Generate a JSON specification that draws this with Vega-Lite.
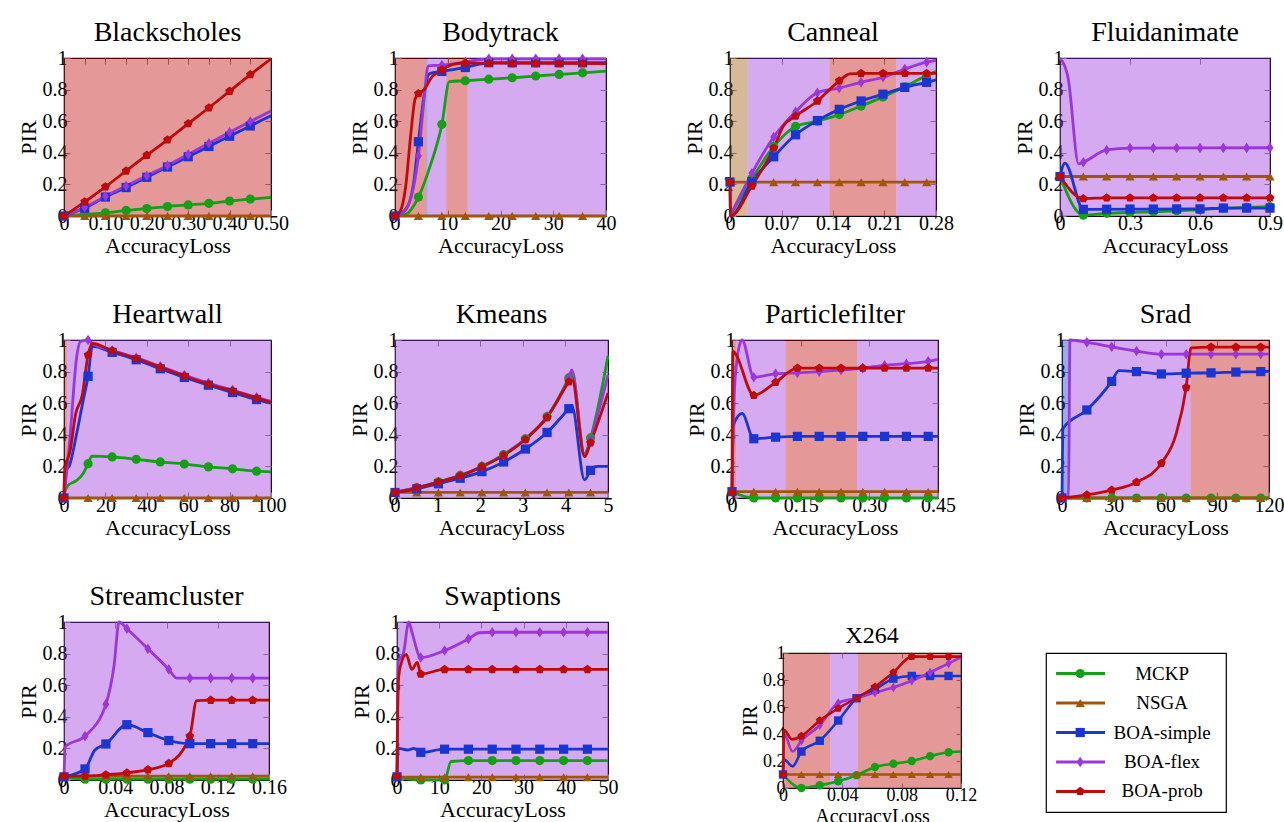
{
  "$schema": "https://vega.github.io/schema/vega-lite/v6.json",
  "background": "white",
  "padding": {"left": 16, "top": 18, "right": 0, "bottom": 0},
  "datasets": {
    "methods": [
      {"method": "MCKP"}, {"method": "NSGA"}, {"method": "BOA-simple"}, {"method": "BOA-flex"}, {"method": "BOA-prob"}
    ],
    "regions": [
      {"bench": "Blackscholes", "method": "BOA-prob", "start": 0, "end": 0.5},
      {"bench": "Bodytrack", "method": "BOA-prob", "start": 0, "end": 5.9},
      {"bench": "Bodytrack", "method": "BOA-simple", "start": 5.9, "end": 6.2},
      {"bench": "Bodytrack", "method": "BOA-flex", "start": 6.2, "end": 9.7},
      {"bench": "Bodytrack", "method": "BOA-prob", "start": 9.7, "end": 13.8},
      {"bench": "Bodytrack", "method": "BOA-flex", "start": 13.8, "end": 40},
      {"bench": "Canneal", "method": "NSGA", "start": 0, "end": 0.024},
      {"bench": "Canneal", "method": "BOA-flex", "start": 0.024, "end": 0.135},
      {"bench": "Canneal", "method": "BOA-prob", "start": 0.135, "end": 0.226},
      {"bench": "Canneal", "method": "BOA-flex", "start": 0.226, "end": 0.28},
      {"bench": "Fluidanimate", "method": "BOA-flex", "start": 0, "end": 0.9},
      {"bench": "Heartwall", "method": "BOA-prob", "start": 0, "end": 1.6},
      {"bench": "Heartwall", "method": "BOA-flex", "start": 1.6, "end": 100},
      {"bench": "Kmeans", "method": "BOA-flex", "start": 0, "end": 5},
      {"bench": "Particlefilter", "method": "BOA-prob", "start": 0, "end": 0.009},
      {"bench": "Particlefilter", "method": "BOA-flex", "start": 0.009, "end": 0.1165},
      {"bench": "Particlefilter", "method": "BOA-prob", "start": 0.1165, "end": 0.273},
      {"bench": "Particlefilter", "method": "BOA-flex", "start": 0.273, "end": 0.45},
      {"bench": "Srad", "method": "BOA-simple", "start": 0, "end": 4.4},
      {"bench": "Srad", "method": "BOA-flex", "start": 4.4, "end": 74.4},
      {"bench": "Srad", "method": "BOA-prob", "start": 74.4, "end": 120},
      {"bench": "Streamcluster", "method": "BOA-flex", "start": 0, "end": 0.16},
      {"bench": "Swaptions", "method": "BOA-flex", "start": 0, "end": 50},
      {"bench": "X264", "method": "BOA-prob", "start": 0, "end": 0.0317},
      {"bench": "X264", "method": "BOA-flex", "start": 0.0317, "end": 0.0502},
      {"bench": "X264", "method": "BOA-prob", "start": 0.0502, "end": 0.12}
    ],
    "blackscholes_lines": [
      {"method":"MCKP","loss":0,"pir":0},{"method":"MCKP","loss":0.05,"pir":0.01},{"method":"MCKP","loss":0.1,"pir":0.02},{"method":"MCKP","loss":0.15,"pir":0.035},{"method":"MCKP","loss":0.2,"pir":0.047},{"method":"MCKP","loss":0.25,"pir":0.06},{"method":"MCKP","loss":0.3,"pir":0.07},{"method":"MCKP","loss":0.35,"pir":0.08},{"method":"MCKP","loss":0.4,"pir":0.095},{"method":"MCKP","loss":0.45,"pir":0.107},{"method":"MCKP","loss":0.5,"pir":0.118},
      {"method":"NSGA","loss":0,"pir":0},{"method":"NSGA","loss":0.5,"pir":0},
      {"method":"BOA-simple","loss":0,"pir":0},{"method":"BOA-simple","loss":0.05,"pir":0.05},{"method":"BOA-simple","loss":0.1,"pir":0.12},{"method":"BOA-simple","loss":0.15,"pir":0.18},{"method":"BOA-simple","loss":0.2,"pir":0.245},{"method":"BOA-simple","loss":0.25,"pir":0.31},{"method":"BOA-simple","loss":0.3,"pir":0.375},{"method":"BOA-simple","loss":0.35,"pir":0.44},{"method":"BOA-simple","loss":0.4,"pir":0.505},{"method":"BOA-simple","loss":0.45,"pir":0.57},{"method":"BOA-simple","loss":0.5,"pir":0.635},
      {"method":"BOA-flex","loss":0,"pir":0},{"method":"BOA-flex","loss":0.05,"pir":0.055},{"method":"BOA-flex","loss":0.1,"pir":0.125},{"method":"BOA-flex","loss":0.15,"pir":0.19},{"method":"BOA-flex","loss":0.2,"pir":0.255},{"method":"BOA-flex","loss":0.25,"pir":0.32},{"method":"BOA-flex","loss":0.3,"pir":0.39},{"method":"BOA-flex","loss":0.35,"pir":0.46},{"method":"BOA-flex","loss":0.4,"pir":0.53},{"method":"BOA-flex","loss":0.45,"pir":0.598},{"method":"BOA-flex","loss":0.5,"pir":0.665},
      {"method":"BOA-prob","loss":0,"pir":0},{"method":"BOA-prob","loss":0.05,"pir":0.09},{"method":"BOA-prob","loss":0.1,"pir":0.185},{"method":"BOA-prob","loss":0.15,"pir":0.285},{"method":"BOA-prob","loss":0.2,"pir":0.385},{"method":"BOA-prob","loss":0.25,"pir":0.482},{"method":"BOA-prob","loss":0.3,"pir":0.585},{"method":"BOA-prob","loss":0.35,"pir":0.685},{"method":"BOA-prob","loss":0.4,"pir":0.79},{"method":"BOA-prob","loss":0.45,"pir":0.895},{"method":"BOA-prob","loss":0.5,"pir":0.995}
    ],
    "blackscholes_marks": [
      {"method":"MCKP","loss":0.05,"pir":0.01},{"method":"MCKP","loss":0.1,"pir":0.02},{"method":"MCKP","loss":0.15,"pir":0.035},{"method":"MCKP","loss":0.2,"pir":0.047},{"method":"MCKP","loss":0.25,"pir":0.06},{"method":"MCKP","loss":0.3,"pir":0.07},{"method":"MCKP","loss":0.35,"pir":0.08},{"method":"MCKP","loss":0.4,"pir":0.095},{"method":"MCKP","loss":0.45,"pir":0.107},
      {"method":"NSGA","loss":0.05,"pir":0},{"method":"NSGA","loss":0.1,"pir":0},{"method":"NSGA","loss":0.15,"pir":0},{"method":"NSGA","loss":0.2,"pir":0},{"method":"NSGA","loss":0.25,"pir":0},{"method":"NSGA","loss":0.3,"pir":0},{"method":"NSGA","loss":0.35,"pir":0},{"method":"NSGA","loss":0.4,"pir":0},{"method":"NSGA","loss":0.45,"pir":0},
      {"method":"BOA-simple","loss":0,"pir":0},{"method":"BOA-simple","loss":0.05,"pir":0.05},{"method":"BOA-simple","loss":0.1,"pir":0.12},{"method":"BOA-simple","loss":0.15,"pir":0.18},{"method":"BOA-simple","loss":0.2,"pir":0.245},{"method":"BOA-simple","loss":0.25,"pir":0.31},{"method":"BOA-simple","loss":0.3,"pir":0.375},{"method":"BOA-simple","loss":0.35,"pir":0.44},{"method":"BOA-simple","loss":0.4,"pir":0.505},{"method":"BOA-simple","loss":0.45,"pir":0.57},
      {"method":"BOA-flex","loss":0.05,"pir":0.055},{"method":"BOA-flex","loss":0.1,"pir":0.125},{"method":"BOA-flex","loss":0.15,"pir":0.19},{"method":"BOA-flex","loss":0.2,"pir":0.255},{"method":"BOA-flex","loss":0.25,"pir":0.32},{"method":"BOA-flex","loss":0.3,"pir":0.39},{"method":"BOA-flex","loss":0.35,"pir":0.46},{"method":"BOA-flex","loss":0.4,"pir":0.53},{"method":"BOA-flex","loss":0.45,"pir":0.598},
      {"method":"BOA-prob","loss":0,"pir":0},{"method":"BOA-prob","loss":0.05,"pir":0.09},{"method":"BOA-prob","loss":0.1,"pir":0.185},{"method":"BOA-prob","loss":0.15,"pir":0.285},{"method":"BOA-prob","loss":0.2,"pir":0.385},{"method":"BOA-prob","loss":0.25,"pir":0.482},{"method":"BOA-prob","loss":0.3,"pir":0.585},{"method":"BOA-prob","loss":0.35,"pir":0.685},{"method":"BOA-prob","loss":0.4,"pir":0.79},{"method":"BOA-prob","loss":0.45,"pir":0.895}
    ],
    "bodytrack_lines": [
      {"method":"MCKP","loss":0,"pir":0},{"method":"MCKP","loss":2,"pir":0.01},{"method":"MCKP","loss":4.44,"pir":0.12},{"method":"MCKP","loss":6.7,"pir":0.32},{"method":"MCKP","loss":8.89,"pir":0.58},{"method":"MCKP","loss":10.3,"pir":0.85},{"method":"MCKP","loss":13.33,"pir":0.856},{"method":"MCKP","loss":17.78,"pir":0.866},{"method":"MCKP","loss":22.22,"pir":0.875},{"method":"MCKP","loss":26.67,"pir":0.886},{"method":"MCKP","loss":31.11,"pir":0.896},{"method":"MCKP","loss":35.56,"pir":0.906},{"method":"MCKP","loss":40,"pir":0.917},
      {"method":"NSGA","loss":0,"pir":0},{"method":"NSGA","loss":40,"pir":0},
      {"method":"BOA-simple","loss":0,"pir":0},{"method":"BOA-simple","loss":2,"pir":0.04},{"method":"BOA-simple","loss":3.5,"pir":0.2},{"method":"BOA-simple","loss":4.44,"pir":0.47},{"method":"BOA-simple","loss":5.5,"pir":0.76},{"method":"BOA-simple","loss":6.5,"pir":0.9},{"method":"BOA-simple","loss":8.89,"pir":0.915},{"method":"BOA-simple","loss":13.33,"pir":0.94},{"method":"BOA-simple","loss":17.78,"pir":0.97},{"method":"BOA-simple","loss":40,"pir":0.97},
      {"method":"BOA-flex","loss":0,"pir":0},{"method":"BOA-flex","loss":2,"pir":0.04},{"method":"BOA-flex","loss":3.5,"pir":0.18},{"method":"BOA-flex","loss":4.44,"pir":0.38},{"method":"BOA-flex","loss":5.4,"pir":0.7},{"method":"BOA-flex","loss":6.3,"pir":0.95},{"method":"BOA-flex","loss":8.89,"pir":0.955},{"method":"BOA-flex","loss":13.33,"pir":0.975},{"method":"BOA-flex","loss":17.78,"pir":0.995},{"method":"BOA-flex","loss":40,"pir":0.995},
      {"method":"BOA-prob","loss":0,"pir":0},{"method":"BOA-prob","loss":1,"pir":0.03},{"method":"BOA-prob","loss":2,"pir":0.18},{"method":"BOA-prob","loss":3,"pir":0.52},{"method":"BOA-prob","loss":3.8,"pir":0.74},{"method":"BOA-prob","loss":4.44,"pir":0.775},{"method":"BOA-prob","loss":5.5,"pir":0.8},{"method":"BOA-prob","loss":7,"pir":0.88},{"method":"BOA-prob","loss":8.89,"pir":0.925},{"method":"BOA-prob","loss":11,"pir":0.96},{"method":"BOA-prob","loss":13.33,"pir":0.968},{"method":"BOA-prob","loss":40,"pir":0.965}
    ],
    "bodytrack_marks": [
      {"method":"MCKP","loss":4.44,"pir":0.12},{"method":"MCKP","loss":8.89,"pir":0.58},{"method":"MCKP","loss":13.33,"pir":0.856},{"method":"MCKP","loss":17.78,"pir":0.866},{"method":"MCKP","loss":22.22,"pir":0.875},{"method":"MCKP","loss":26.67,"pir":0.886},{"method":"MCKP","loss":31.11,"pir":0.896},{"method":"MCKP","loss":35.56,"pir":0.906},
      {"method":"NSGA","loss":4.44,"pir":0},{"method":"NSGA","loss":8.89,"pir":0},{"method":"NSGA","loss":13.33,"pir":0},{"method":"NSGA","loss":17.78,"pir":0},{"method":"NSGA","loss":22.22,"pir":0},{"method":"NSGA","loss":26.67,"pir":0},{"method":"NSGA","loss":31.11,"pir":0},{"method":"NSGA","loss":35.56,"pir":0},
      {"method":"BOA-simple","loss":0,"pir":0},{"method":"BOA-simple","loss":4.44,"pir":0.47},{"method":"BOA-simple","loss":8.89,"pir":0.915},{"method":"BOA-simple","loss":13.33,"pir":0.94},{"method":"BOA-simple","loss":17.78,"pir":0.97},{"method":"BOA-simple","loss":22.22,"pir":0.97},{"method":"BOA-simple","loss":26.67,"pir":0.97},{"method":"BOA-simple","loss":31.11,"pir":0.97},{"method":"BOA-simple","loss":35.56,"pir":0.97},
      {"method":"BOA-flex","loss":4.44,"pir":0.38},{"method":"BOA-flex","loss":8.89,"pir":0.955},{"method":"BOA-flex","loss":13.33,"pir":0.975},{"method":"BOA-flex","loss":17.78,"pir":0.995},{"method":"BOA-flex","loss":22.22,"pir":0.995},{"method":"BOA-flex","loss":26.67,"pir":0.995},{"method":"BOA-flex","loss":31.11,"pir":0.995},{"method":"BOA-flex","loss":35.56,"pir":0.995},
      {"method":"BOA-prob","loss":0,"pir":0},{"method":"BOA-prob","loss":4.44,"pir":0.775},{"method":"BOA-prob","loss":8.89,"pir":0.925},{"method":"BOA-prob","loss":13.33,"pir":0.968},{"method":"BOA-prob","loss":17.78,"pir":0.966},{"method":"BOA-prob","loss":22.22,"pir":0.965},{"method":"BOA-prob","loss":26.67,"pir":0.965},{"method":"BOA-prob","loss":31.11,"pir":0.965},{"method":"BOA-prob","loss":35.56,"pir":0.965}
    ],
    "canneal_lines": [
      {"method":"MCKP","loss":0,"pir":0},{"method":"MCKP","loss":0.0297,"pir":0.235},{"method":"MCKP","loss":0.0594,"pir":0.44},{"method":"MCKP","loss":0.0891,"pir":0.567},{"method":"MCKP","loss":0.1188,"pir":0.6},{"method":"MCKP","loss":0.1485,"pir":0.642},{"method":"MCKP","loss":0.1782,"pir":0.696},{"method":"MCKP","loss":0.2079,"pir":0.754},{"method":"MCKP","loss":0.2376,"pir":0.818},{"method":"MCKP","loss":0.2673,"pir":0.889},{"method":"MCKP","loss":0.28,"pir":0.916},
      {"method":"NSGA","loss":0,"pir":0.214},{"method":"NSGA","loss":0.28,"pir":0.214},
      {"method":"BOA-simple","loss":0,"pir":0.215},{"method":"BOA-simple","loss":0.0008,"pir":0},{"method":"BOA-simple","loss":0.0297,"pir":0.218},{"method":"BOA-simple","loss":0.0594,"pir":0.375},{"method":"BOA-simple","loss":0.0891,"pir":0.514},{"method":"BOA-simple","loss":0.1188,"pir":0.604},{"method":"BOA-simple","loss":0.1485,"pir":0.675},{"method":"BOA-simple","loss":0.1782,"pir":0.728},{"method":"BOA-simple","loss":0.2079,"pir":0.771},{"method":"BOA-simple","loss":0.2376,"pir":0.814},{"method":"BOA-simple","loss":0.2673,"pir":0.846},{"method":"BOA-simple","loss":0.28,"pir":0.861},
      {"method":"BOA-flex","loss":0,"pir":0},{"method":"BOA-flex","loss":0.0297,"pir":0.27},{"method":"BOA-flex","loss":0.0594,"pir":0.5},{"method":"BOA-flex","loss":0.0891,"pir":0.66},{"method":"BOA-flex","loss":0.1188,"pir":0.78},{"method":"BOA-flex","loss":0.1485,"pir":0.81},{"method":"BOA-flex","loss":0.1782,"pir":0.846},{"method":"BOA-flex","loss":0.2079,"pir":0.878},{"method":"BOA-flex","loss":0.2376,"pir":0.93},{"method":"BOA-flex","loss":0.2673,"pir":0.974},{"method":"BOA-flex","loss":0.28,"pir":0.985},
      {"method":"BOA-prob","loss":0,"pir":0.215},{"method":"BOA-prob","loss":0.0008,"pir":0},{"method":"BOA-prob","loss":0.0297,"pir":0.19},{"method":"BOA-prob","loss":0.0594,"pir":0.43},{"method":"BOA-prob","loss":0.0725,"pir":0.57},{"method":"BOA-prob","loss":0.0891,"pir":0.632},{"method":"BOA-prob","loss":0.1188,"pir":0.728},{"method":"BOA-prob","loss":0.1485,"pir":0.856},{"method":"BOA-prob","loss":0.163,"pir":0.9},{"method":"BOA-prob","loss":0.1782,"pir":0.903},{"method":"BOA-prob","loss":0.28,"pir":0.903}
    ],
    "canneal_marks": [
      {"method":"MCKP","loss":0.0297,"pir":0.235},{"method":"MCKP","loss":0.0594,"pir":0.44},{"method":"MCKP","loss":0.0891,"pir":0.567},{"method":"MCKP","loss":0.1188,"pir":0.6},{"method":"MCKP","loss":0.1485,"pir":0.642},{"method":"MCKP","loss":0.1782,"pir":0.696},{"method":"MCKP","loss":0.2079,"pir":0.754},{"method":"MCKP","loss":0.2376,"pir":0.818},{"method":"MCKP","loss":0.2673,"pir":0.889},
      {"method":"NSGA","loss":0.0297,"pir":0.214},{"method":"NSGA","loss":0.0594,"pir":0.214},{"method":"NSGA","loss":0.0891,"pir":0.214},{"method":"NSGA","loss":0.1188,"pir":0.214},{"method":"NSGA","loss":0.1485,"pir":0.214},{"method":"NSGA","loss":0.1782,"pir":0.214},{"method":"NSGA","loss":0.2079,"pir":0.214},{"method":"NSGA","loss":0.2376,"pir":0.214},{"method":"NSGA","loss":0.2673,"pir":0.214},
      {"method":"BOA-simple","loss":0,"pir":0.215},{"method":"BOA-simple","loss":0.0297,"pir":0.218},{"method":"BOA-simple","loss":0.0594,"pir":0.375},{"method":"BOA-simple","loss":0.0891,"pir":0.514},{"method":"BOA-simple","loss":0.1188,"pir":0.604},{"method":"BOA-simple","loss":0.1485,"pir":0.675},{"method":"BOA-simple","loss":0.1782,"pir":0.728},{"method":"BOA-simple","loss":0.2079,"pir":0.771},{"method":"BOA-simple","loss":0.2376,"pir":0.814},{"method":"BOA-simple","loss":0.2673,"pir":0.846},
      {"method":"BOA-flex","loss":0.0297,"pir":0.27},{"method":"BOA-flex","loss":0.0594,"pir":0.5},{"method":"BOA-flex","loss":0.0891,"pir":0.66},{"method":"BOA-flex","loss":0.1188,"pir":0.78},{"method":"BOA-flex","loss":0.1485,"pir":0.81},{"method":"BOA-flex","loss":0.1782,"pir":0.846},{"method":"BOA-flex","loss":0.2079,"pir":0.878},{"method":"BOA-flex","loss":0.2376,"pir":0.93},{"method":"BOA-flex","loss":0.2673,"pir":0.974},
      {"method":"BOA-prob","loss":0,"pir":0.215},{"method":"BOA-prob","loss":0.0297,"pir":0.19},{"method":"BOA-prob","loss":0.0594,"pir":0.43},{"method":"BOA-prob","loss":0.0891,"pir":0.632},{"method":"BOA-prob","loss":0.1188,"pir":0.728},{"method":"BOA-prob","loss":0.1485,"pir":0.856},{"method":"BOA-prob","loss":0.1782,"pir":0.903},{"method":"BOA-prob","loss":0.2079,"pir":0.903},{"method":"BOA-prob","loss":0.2376,"pir":0.903},{"method":"BOA-prob","loss":0.2673,"pir":0.903}
    ],
    "fluidanimate_lines": [
      {"method":"MCKP","loss":0,"pir":0.25},{"method":"MCKP","loss":0.1,"pir":0.005},{"method":"MCKP","loss":0.2,"pir":0.017},{"method":"MCKP","loss":0.3,"pir":0.023},{"method":"MCKP","loss":0.4,"pir":0.027},{"method":"MCKP","loss":0.5,"pir":0.033},{"method":"MCKP","loss":0.6,"pir":0.04},{"method":"MCKP","loss":0.7,"pir":0.05},{"method":"MCKP","loss":0.8,"pir":0.055},{"method":"MCKP","loss":0.9,"pir":0.06},
      {"method":"NSGA","loss":0,"pir":0.25},{"method":"NSGA","loss":0.9,"pir":0.25},
      {"method":"BOA-simple","loss":0,"pir":0.25},{"method":"BOA-simple","loss":0.021,"pir":0.335},{"method":"BOA-simple","loss":0.1,"pir":0.042},{"method":"BOA-simple","loss":0.6,"pir":0.045},{"method":"BOA-simple","loss":0.7,"pir":0.05},{"method":"BOA-simple","loss":0.9,"pir":0.05},
      {"method":"BOA-flex","loss":0,"pir":1},{"method":"BOA-flex","loss":0.035,"pir":0.87},{"method":"BOA-flex","loss":0.08,"pir":0.33},{"method":"BOA-flex","loss":0.1,"pir":0.34},{"method":"BOA-flex","loss":0.2,"pir":0.418},{"method":"BOA-flex","loss":0.3,"pir":0.43},{"method":"BOA-flex","loss":0.9,"pir":0.432},
      {"method":"BOA-prob","loss":0,"pir":0.25},{"method":"BOA-prob","loss":0.1,"pir":0.11},{"method":"BOA-prob","loss":0.2,"pir":0.115},{"method":"BOA-prob","loss":0.9,"pir":0.115}
    ],
    "fluidanimate_marks": [
      {"method":"MCKP","loss":0.1,"pir":0.005},{"method":"MCKP","loss":0.2,"pir":0.017},{"method":"MCKP","loss":0.3,"pir":0.023},{"method":"MCKP","loss":0.4,"pir":0.027},{"method":"MCKP","loss":0.5,"pir":0.033},{"method":"MCKP","loss":0.6,"pir":0.04},{"method":"MCKP","loss":0.7,"pir":0.05},{"method":"MCKP","loss":0.8,"pir":0.055},{"method":"MCKP","loss":0.9,"pir":0.06},
      {"method":"NSGA","loss":0.1,"pir":0.25},{"method":"NSGA","loss":0.2,"pir":0.25},{"method":"NSGA","loss":0.3,"pir":0.25},{"method":"NSGA","loss":0.4,"pir":0.25},{"method":"NSGA","loss":0.5,"pir":0.25},{"method":"NSGA","loss":0.6,"pir":0.25},{"method":"NSGA","loss":0.7,"pir":0.25},{"method":"NSGA","loss":0.8,"pir":0.25},{"method":"NSGA","loss":0.9,"pir":0.25},
      {"method":"BOA-simple","loss":0,"pir":0.25},{"method":"BOA-simple","loss":0.1,"pir":0.042},{"method":"BOA-simple","loss":0.2,"pir":0.043},{"method":"BOA-simple","loss":0.3,"pir":0.044},{"method":"BOA-simple","loss":0.4,"pir":0.044},{"method":"BOA-simple","loss":0.5,"pir":0.045},{"method":"BOA-simple","loss":0.6,"pir":0.045},{"method":"BOA-simple","loss":0.7,"pir":0.05},{"method":"BOA-simple","loss":0.8,"pir":0.05},{"method":"BOA-simple","loss":0.9,"pir":0.05},
      {"method":"BOA-flex","loss":0.1,"pir":0.34},{"method":"BOA-flex","loss":0.2,"pir":0.418},{"method":"BOA-flex","loss":0.3,"pir":0.43},{"method":"BOA-flex","loss":0.4,"pir":0.43},{"method":"BOA-flex","loss":0.5,"pir":0.43},{"method":"BOA-flex","loss":0.6,"pir":0.43},{"method":"BOA-flex","loss":0.7,"pir":0.431},{"method":"BOA-flex","loss":0.8,"pir":0.431},{"method":"BOA-flex","loss":0.9,"pir":0.432},
      {"method":"BOA-prob","loss":0,"pir":0.25},{"method":"BOA-prob","loss":0.1,"pir":0.11},{"method":"BOA-prob","loss":0.2,"pir":0.115},{"method":"BOA-prob","loss":0.3,"pir":0.115},{"method":"BOA-prob","loss":0.4,"pir":0.115},{"method":"BOA-prob","loss":0.5,"pir":0.115},{"method":"BOA-prob","loss":0.6,"pir":0.115},{"method":"BOA-prob","loss":0.7,"pir":0.115},{"method":"BOA-prob","loss":0.8,"pir":0.115},{"method":"BOA-prob","loss":0.9,"pir":0.115}
    ],
    "heartwall_lines": [
      {"method":"MCKP","loss":0,"pir":0.03},{"method":"MCKP","loss":2,"pir":0.08},{"method":"MCKP","loss":6,"pir":0.11},{"method":"MCKP","loss":9,"pir":0.15},{"method":"MCKP","loss":11.63,"pir":0.217},{"method":"MCKP","loss":13.5,"pir":0.265},{"method":"MCKP","loss":23.26,"pir":0.26},{"method":"MCKP","loss":34.88,"pir":0.245},{"method":"MCKP","loss":46.51,"pir":0.228},{"method":"MCKP","loss":58.14,"pir":0.215},{"method":"MCKP","loss":69.77,"pir":0.197},{"method":"MCKP","loss":81.4,"pir":0.185},{"method":"MCKP","loss":93.02,"pir":0.17},{"method":"MCKP","loss":100,"pir":0.165},
      {"method":"NSGA","loss":0,"pir":0},{"method":"NSGA","loss":100,"pir":0},
      {"method":"BOA-simple","loss":0,"pir":0},{"method":"BOA-simple","loss":0.3,"pir":0.15},{"method":"BOA-simple","loss":3,"pir":0.22},{"method":"BOA-simple","loss":6,"pir":0.4},{"method":"BOA-simple","loss":9,"pir":0.6},{"method":"BOA-simple","loss":11.63,"pir":0.77},{"method":"BOA-simple","loss":13.7,"pir":0.96},{"method":"BOA-simple","loss":23.26,"pir":0.922},{"method":"BOA-simple","loss":34.88,"pir":0.875},{"method":"BOA-simple","loss":46.51,"pir":0.818},{"method":"BOA-simple","loss":58.14,"pir":0.763},{"method":"BOA-simple","loss":69.77,"pir":0.714},{"method":"BOA-simple","loss":81.4,"pir":0.668},{"method":"BOA-simple","loss":93.02,"pir":0.623},{"method":"BOA-simple","loss":100,"pir":0.6},
      {"method":"BOA-flex","loss":0,"pir":0},{"method":"BOA-flex","loss":3,"pir":0.4},{"method":"BOA-flex","loss":6,"pir":0.88},{"method":"BOA-flex","loss":8,"pir":0.99},{"method":"BOA-flex","loss":11.63,"pir":1},{"method":"BOA-flex","loss":13.7,"pir":0.978},{"method":"BOA-flex","loss":23.26,"pir":0.935},{"method":"BOA-flex","loss":34.88,"pir":0.888},{"method":"BOA-flex","loss":46.51,"pir":0.833},{"method":"BOA-flex","loss":58.14,"pir":0.778},{"method":"BOA-flex","loss":69.77,"pir":0.727},{"method":"BOA-flex","loss":81.4,"pir":0.683},{"method":"BOA-flex","loss":93.02,"pir":0.637},{"method":"BOA-flex","loss":100,"pir":0.612},
      {"method":"BOA-prob","loss":0,"pir":0},{"method":"BOA-prob","loss":0.3,"pir":0.17},{"method":"BOA-prob","loss":3,"pir":0.3},{"method":"BOA-prob","loss":5.6,"pir":0.53},{"method":"BOA-prob","loss":8.8,"pir":0.65},{"method":"BOA-prob","loss":11.63,"pir":0.905},{"method":"BOA-prob","loss":13.7,"pir":0.978},{"method":"BOA-prob","loss":23.26,"pir":0.932},{"method":"BOA-prob","loss":34.88,"pir":0.883},{"method":"BOA-prob","loss":46.51,"pir":0.828},{"method":"BOA-prob","loss":58.14,"pir":0.772},{"method":"BOA-prob","loss":69.77,"pir":0.72},{"method":"BOA-prob","loss":81.4,"pir":0.678},{"method":"BOA-prob","loss":93.02,"pir":0.632},{"method":"BOA-prob","loss":100,"pir":0.606}
    ],
    "heartwall_marks": [
      {"method":"MCKP","loss":11.63,"pir":0.217},{"method":"MCKP","loss":23.26,"pir":0.26},{"method":"MCKP","loss":34.88,"pir":0.245},{"method":"MCKP","loss":46.51,"pir":0.228},{"method":"MCKP","loss":58.14,"pir":0.215},{"method":"MCKP","loss":69.77,"pir":0.197},{"method":"MCKP","loss":81.4,"pir":0.185},{"method":"MCKP","loss":93.02,"pir":0.17},
      {"method":"NSGA","loss":11.63,"pir":0},{"method":"NSGA","loss":23.26,"pir":0},{"method":"NSGA","loss":34.88,"pir":0},{"method":"NSGA","loss":46.51,"pir":0},{"method":"NSGA","loss":58.14,"pir":0},{"method":"NSGA","loss":69.77,"pir":0},{"method":"NSGA","loss":81.4,"pir":0},{"method":"NSGA","loss":93.02,"pir":0},
      {"method":"BOA-simple","loss":0,"pir":0},{"method":"BOA-simple","loss":11.63,"pir":0.77},{"method":"BOA-simple","loss":23.26,"pir":0.922},{"method":"BOA-simple","loss":34.88,"pir":0.875},{"method":"BOA-simple","loss":46.51,"pir":0.818},{"method":"BOA-simple","loss":58.14,"pir":0.763},{"method":"BOA-simple","loss":69.77,"pir":0.714},{"method":"BOA-simple","loss":81.4,"pir":0.668},{"method":"BOA-simple","loss":93.02,"pir":0.623},
      {"method":"BOA-flex","loss":11.63,"pir":1},{"method":"BOA-flex","loss":23.26,"pir":0.935},{"method":"BOA-flex","loss":34.88,"pir":0.888},{"method":"BOA-flex","loss":46.51,"pir":0.833},{"method":"BOA-flex","loss":58.14,"pir":0.778},{"method":"BOA-flex","loss":69.77,"pir":0.727},{"method":"BOA-flex","loss":81.4,"pir":0.683},{"method":"BOA-flex","loss":93.02,"pir":0.637},
      {"method":"BOA-prob","loss":0,"pir":0},{"method":"BOA-prob","loss":11.63,"pir":0.905},{"method":"BOA-prob","loss":23.26,"pir":0.932},{"method":"BOA-prob","loss":34.88,"pir":0.883},{"method":"BOA-prob","loss":46.51,"pir":0.828},{"method":"BOA-prob","loss":58.14,"pir":0.772},{"method":"BOA-prob","loss":69.77,"pir":0.72},{"method":"BOA-prob","loss":81.4,"pir":0.678},{"method":"BOA-prob","loss":93.02,"pir":0.632}
    ],
    "kmeans_lines": [
      {"method":"MCKP","loss":0,"pir":0.035},{"method":"MCKP","loss":0.51,"pir":0.065},{"method":"MCKP","loss":1.02,"pir":0.102},{"method":"MCKP","loss":1.53,"pir":0.143},{"method":"MCKP","loss":2.04,"pir":0.2},{"method":"MCKP","loss":2.55,"pir":0.275},{"method":"MCKP","loss":3.06,"pir":0.375},{"method":"MCKP","loss":3.57,"pir":0.515},{"method":"MCKP","loss":4.08,"pir":0.76},{"method":"MCKP","loss":4.15,"pir":0.8},{"method":"MCKP","loss":4.45,"pir":0.28},{"method":"MCKP","loss":4.59,"pir":0.38},{"method":"MCKP","loss":5,"pir":0.9},
      {"method":"NSGA","loss":0,"pir":0.035},{"method":"NSGA","loss":5,"pir":0.035},
      {"method":"BOA-simple","loss":0,"pir":0.035},{"method":"BOA-simple","loss":0.51,"pir":0.058},{"method":"BOA-simple","loss":1.02,"pir":0.09},{"method":"BOA-simple","loss":1.53,"pir":0.125},{"method":"BOA-simple","loss":2.04,"pir":0.167},{"method":"BOA-simple","loss":2.55,"pir":0.228},{"method":"BOA-simple","loss":3.06,"pir":0.31},{"method":"BOA-simple","loss":3.57,"pir":0.415},{"method":"BOA-simple","loss":4.08,"pir":0.565},{"method":"BOA-simple","loss":4.15,"pir":0.585},{"method":"BOA-simple","loss":4.45,"pir":0.115},{"method":"BOA-simple","loss":4.59,"pir":0.175},{"method":"BOA-simple","loss":4.75,"pir":0.2},{"method":"BOA-simple","loss":5,"pir":0.2},
      {"method":"BOA-flex","loss":0,"pir":0.035},{"method":"BOA-flex","loss":0.51,"pir":0.065},{"method":"BOA-flex","loss":1.02,"pir":0.1},{"method":"BOA-flex","loss":1.53,"pir":0.142},{"method":"BOA-flex","loss":2.04,"pir":0.2},{"method":"BOA-flex","loss":2.55,"pir":0.273},{"method":"BOA-flex","loss":3.06,"pir":0.373},{"method":"BOA-flex","loss":3.57,"pir":0.515},{"method":"BOA-flex","loss":4.08,"pir":0.76},{"method":"BOA-flex","loss":4.15,"pir":0.81},{"method":"BOA-flex","loss":4.45,"pir":0.27},{"method":"BOA-flex","loss":4.59,"pir":0.37},{"method":"BOA-flex","loss":5,"pir":0.78},
      {"method":"BOA-prob","loss":0,"pir":0.035},{"method":"BOA-prob","loss":0.51,"pir":0.063},{"method":"BOA-prob","loss":1.02,"pir":0.1},{"method":"BOA-prob","loss":1.53,"pir":0.14},{"method":"BOA-prob","loss":2.04,"pir":0.198},{"method":"BOA-prob","loss":2.55,"pir":0.27},{"method":"BOA-prob","loss":3.06,"pir":0.37},{"method":"BOA-prob","loss":3.57,"pir":0.51},{"method":"BOA-prob","loss":4.08,"pir":0.735},{"method":"BOA-prob","loss":4.15,"pir":0.76},{"method":"BOA-prob","loss":4.45,"pir":0.26},{"method":"BOA-prob","loss":4.59,"pir":0.35},{"method":"BOA-prob","loss":5,"pir":0.665}
    ],
    "kmeans_marks": [
      {"method":"MCKP","loss":0.51,"pir":0.065},{"method":"MCKP","loss":1.02,"pir":0.102},{"method":"MCKP","loss":1.53,"pir":0.143},{"method":"MCKP","loss":2.04,"pir":0.2},{"method":"MCKP","loss":2.55,"pir":0.275},{"method":"MCKP","loss":3.06,"pir":0.375},{"method":"MCKP","loss":3.57,"pir":0.515},{"method":"MCKP","loss":4.08,"pir":0.76},{"method":"MCKP","loss":4.59,"pir":0.38},
      {"method":"NSGA","loss":0.51,"pir":0.035},{"method":"NSGA","loss":1.02,"pir":0.035},{"method":"NSGA","loss":1.53,"pir":0.035},{"method":"NSGA","loss":2.04,"pir":0.035},{"method":"NSGA","loss":2.55,"pir":0.035},{"method":"NSGA","loss":3.06,"pir":0.035},{"method":"NSGA","loss":3.57,"pir":0.035},{"method":"NSGA","loss":4.08,"pir":0.035},{"method":"NSGA","loss":4.59,"pir":0.035},
      {"method":"BOA-simple","loss":0,"pir":0.035},{"method":"BOA-simple","loss":0.51,"pir":0.058},{"method":"BOA-simple","loss":1.02,"pir":0.09},{"method":"BOA-simple","loss":1.53,"pir":0.125},{"method":"BOA-simple","loss":2.04,"pir":0.167},{"method":"BOA-simple","loss":2.55,"pir":0.228},{"method":"BOA-simple","loss":3.06,"pir":0.31},{"method":"BOA-simple","loss":3.57,"pir":0.415},{"method":"BOA-simple","loss":4.08,"pir":0.565},{"method":"BOA-simple","loss":4.59,"pir":0.175},
      {"method":"BOA-flex","loss":0.51,"pir":0.065},{"method":"BOA-flex","loss":1.02,"pir":0.1},{"method":"BOA-flex","loss":1.53,"pir":0.142},{"method":"BOA-flex","loss":2.04,"pir":0.2},{"method":"BOA-flex","loss":2.55,"pir":0.273},{"method":"BOA-flex","loss":3.06,"pir":0.373},{"method":"BOA-flex","loss":3.57,"pir":0.515},{"method":"BOA-flex","loss":4.08,"pir":0.76},{"method":"BOA-flex","loss":4.59,"pir":0.37},
      {"method":"BOA-prob","loss":0,"pir":0.035},{"method":"BOA-prob","loss":0.51,"pir":0.063},{"method":"BOA-prob","loss":1.02,"pir":0.1},{"method":"BOA-prob","loss":1.53,"pir":0.14},{"method":"BOA-prob","loss":2.04,"pir":0.198},{"method":"BOA-prob","loss":2.55,"pir":0.27},{"method":"BOA-prob","loss":3.06,"pir":0.37},{"method":"BOA-prob","loss":3.57,"pir":0.51},{"method":"BOA-prob","loss":4.08,"pir":0.735},{"method":"BOA-prob","loss":4.59,"pir":0.35}
    ],
    "particlefilter_lines": [
      {"method":"MCKP","loss":0,"pir":0.04},{"method":"MCKP","loss":0.0476,"pir":0},{"method":"MCKP","loss":0.45,"pir":0},
      {"method":"NSGA","loss":0,"pir":0.04},{"method":"NSGA","loss":0.45,"pir":0.04},
      {"method":"BOA-simple","loss":0,"pir":0.04},{"method":"BOA-simple","loss":0.003,"pir":0.46},{"method":"BOA-simple","loss":0.022,"pir":0.535},{"method":"BOA-simple","loss":0.0476,"pir":0.375},{"method":"BOA-simple","loss":0.0952,"pir":0.385},{"method":"BOA-simple","loss":0.1429,"pir":0.39},{"method":"BOA-simple","loss":0.45,"pir":0.39},
      {"method":"BOA-flex","loss":0,"pir":0.04},{"method":"BOA-flex","loss":0.004,"pir":0.6},{"method":"BOA-flex","loss":0.012,"pir":0.9},{"method":"BOA-flex","loss":0.022,"pir":1},{"method":"BOA-flex","loss":0.0476,"pir":0.764},{"method":"BOA-flex","loss":0.0952,"pir":0.786},{"method":"BOA-flex","loss":0.1429,"pir":0.792},{"method":"BOA-flex","loss":0.1905,"pir":0.8},{"method":"BOA-flex","loss":0.2381,"pir":0.81},{"method":"BOA-flex","loss":0.2857,"pir":0.822},{"method":"BOA-flex","loss":0.3333,"pir":0.84},{"method":"BOA-flex","loss":0.381,"pir":0.85},{"method":"BOA-flex","loss":0.4286,"pir":0.865},{"method":"BOA-flex","loss":0.45,"pir":0.878},
      {"method":"BOA-prob","loss":0,"pir":0.036},{"method":"BOA-prob","loss":0.002,"pir":0.93},{"method":"BOA-prob","loss":0.006,"pir":0.92},{"method":"BOA-prob","loss":0.0476,"pir":0.65},{"method":"BOA-prob","loss":0.0952,"pir":0.732},{"method":"BOA-prob","loss":0.1429,"pir":0.822},{"method":"BOA-prob","loss":0.45,"pir":0.822}
    ],
    "particlefilter_marks": [
      {"method":"MCKP","loss":0.0476,"pir":0},{"method":"MCKP","loss":0.0952,"pir":0},{"method":"MCKP","loss":0.1429,"pir":0},{"method":"MCKP","loss":0.1905,"pir":0},{"method":"MCKP","loss":0.2381,"pir":0},{"method":"MCKP","loss":0.2857,"pir":0},{"method":"MCKP","loss":0.3333,"pir":0},{"method":"MCKP","loss":0.381,"pir":0},{"method":"MCKP","loss":0.4286,"pir":0},
      {"method":"NSGA","loss":0.0476,"pir":0.04},{"method":"NSGA","loss":0.0952,"pir":0.04},{"method":"NSGA","loss":0.1429,"pir":0.04},{"method":"NSGA","loss":0.1905,"pir":0.04},{"method":"NSGA","loss":0.2381,"pir":0.04},{"method":"NSGA","loss":0.2857,"pir":0.04},{"method":"NSGA","loss":0.3333,"pir":0.04},{"method":"NSGA","loss":0.381,"pir":0.04},{"method":"NSGA","loss":0.4286,"pir":0.04},
      {"method":"BOA-simple","loss":0,"pir":0.04},{"method":"BOA-simple","loss":0.0476,"pir":0.375},{"method":"BOA-simple","loss":0.0952,"pir":0.385},{"method":"BOA-simple","loss":0.1429,"pir":0.39},{"method":"BOA-simple","loss":0.1905,"pir":0.39},{"method":"BOA-simple","loss":0.2381,"pir":0.39},{"method":"BOA-simple","loss":0.2857,"pir":0.39},{"method":"BOA-simple","loss":0.3333,"pir":0.39},{"method":"BOA-simple","loss":0.381,"pir":0.39},{"method":"BOA-simple","loss":0.4286,"pir":0.39},
      {"method":"BOA-flex","loss":0.0476,"pir":0.764},{"method":"BOA-flex","loss":0.0952,"pir":0.786},{"method":"BOA-flex","loss":0.1429,"pir":0.792},{"method":"BOA-flex","loss":0.1905,"pir":0.8},{"method":"BOA-flex","loss":0.2381,"pir":0.81},{"method":"BOA-flex","loss":0.2857,"pir":0.822},{"method":"BOA-flex","loss":0.3333,"pir":0.84},{"method":"BOA-flex","loss":0.381,"pir":0.85},{"method":"BOA-flex","loss":0.4286,"pir":0.865},
      {"method":"BOA-prob","loss":0,"pir":0.036},{"method":"BOA-prob","loss":0.0476,"pir":0.65},{"method":"BOA-prob","loss":0.0952,"pir":0.732},{"method":"BOA-prob","loss":0.1429,"pir":0.822},{"method":"BOA-prob","loss":0.1905,"pir":0.822},{"method":"BOA-prob","loss":0.2381,"pir":0.822},{"method":"BOA-prob","loss":0.2857,"pir":0.822},{"method":"BOA-prob","loss":0.3333,"pir":0.822},{"method":"BOA-prob","loss":0.381,"pir":0.822},{"method":"BOA-prob","loss":0.4286,"pir":0.822}
    ],
    "srad_lines": [
      {"method":"MCKP","loss":0,"pir":0},{"method":"MCKP","loss":120,"pir":0},
      {"method":"NSGA","loss":0,"pir":0},{"method":"NSGA","loss":120,"pir":0},
      {"method":"BOA-simple","loss":0,"pir":0},{"method":"BOA-simple","loss":0.6,"pir":0.44},{"method":"BOA-simple","loss":14.4,"pir":0.557},{"method":"BOA-simple","loss":28.8,"pir":0.738},{"method":"BOA-simple","loss":33,"pir":0.806},{"method":"BOA-simple","loss":43.2,"pir":0.8},{"method":"BOA-simple","loss":57.6,"pir":0.785},{"method":"BOA-simple","loss":72,"pir":0.79},{"method":"BOA-simple","loss":86.4,"pir":0.792},{"method":"BOA-simple","loss":100.8,"pir":0.797},{"method":"BOA-simple","loss":115.2,"pir":0.8},{"method":"BOA-simple","loss":120,"pir":0.803},
      {"method":"BOA-flex","loss":0,"pir":0},{"method":"BOA-flex","loss":3.8,"pir":0.005},{"method":"BOA-flex","loss":4.6,"pir":1},{"method":"BOA-flex","loss":14.4,"pir":0.985},{"method":"BOA-flex","loss":28.8,"pir":0.957},{"method":"BOA-flex","loss":43.2,"pir":0.93},{"method":"BOA-flex","loss":57.6,"pir":0.91},{"method":"BOA-flex","loss":72,"pir":0.91},{"method":"BOA-flex","loss":120,"pir":0.91},
      {"method":"BOA-prob","loss":0,"pir":0},{"method":"BOA-prob","loss":14.4,"pir":0.02},{"method":"BOA-prob","loss":28.8,"pir":0.05},{"method":"BOA-prob","loss":43.2,"pir":0.1},{"method":"BOA-prob","loss":57.6,"pir":0.22},{"method":"BOA-prob","loss":66,"pir":0.4},{"method":"BOA-prob","loss":72,"pir":0.7},{"method":"BOA-prob","loss":74.8,"pir":0.95},{"method":"BOA-prob","loss":86.4,"pir":0.955},{"method":"BOA-prob","loss":120,"pir":0.955}
    ],
    "srad_marks": [
      {"method":"MCKP","loss":14.4,"pir":0},{"method":"MCKP","loss":28.8,"pir":0},{"method":"MCKP","loss":43.2,"pir":0},{"method":"MCKP","loss":57.6,"pir":0},{"method":"MCKP","loss":72,"pir":0},{"method":"MCKP","loss":86.4,"pir":0},{"method":"MCKP","loss":100.8,"pir":0},{"method":"MCKP","loss":115.2,"pir":0},
      {"method":"NSGA","loss":14.4,"pir":0},{"method":"NSGA","loss":28.8,"pir":0},{"method":"NSGA","loss":43.2,"pir":0},{"method":"NSGA","loss":57.6,"pir":0},{"method":"NSGA","loss":72,"pir":0},{"method":"NSGA","loss":86.4,"pir":0},{"method":"NSGA","loss":100.8,"pir":0},{"method":"NSGA","loss":115.2,"pir":0},
      {"method":"BOA-simple","loss":0,"pir":0},{"method":"BOA-simple","loss":14.4,"pir":0.557},{"method":"BOA-simple","loss":28.8,"pir":0.738},{"method":"BOA-simple","loss":43.2,"pir":0.8},{"method":"BOA-simple","loss":57.6,"pir":0.785},{"method":"BOA-simple","loss":72,"pir":0.79},{"method":"BOA-simple","loss":86.4,"pir":0.792},{"method":"BOA-simple","loss":100.8,"pir":0.797},{"method":"BOA-simple","loss":115.2,"pir":0.8},
      {"method":"BOA-flex","loss":14.4,"pir":0.985},{"method":"BOA-flex","loss":28.8,"pir":0.957},{"method":"BOA-flex","loss":43.2,"pir":0.93},{"method":"BOA-flex","loss":57.6,"pir":0.91},{"method":"BOA-flex","loss":72,"pir":0.91},{"method":"BOA-flex","loss":86.4,"pir":0.91},{"method":"BOA-flex","loss":100.8,"pir":0.91},{"method":"BOA-flex","loss":115.2,"pir":0.91},
      {"method":"BOA-prob","loss":0,"pir":0},{"method":"BOA-prob","loss":14.4,"pir":0.02},{"method":"BOA-prob","loss":28.8,"pir":0.05},{"method":"BOA-prob","loss":43.2,"pir":0.1},{"method":"BOA-prob","loss":57.6,"pir":0.22},{"method":"BOA-prob","loss":72,"pir":0.7},{"method":"BOA-prob","loss":86.4,"pir":0.955},{"method":"BOA-prob","loss":100.8,"pir":0.955},{"method":"BOA-prob","loss":115.2,"pir":0.955}
    ],
    "streamcluster_lines": [
      {"method":"MCKP","loss":0,"pir":0.02},{"method":"MCKP","loss":0.0164,"pir":0.005},{"method":"MCKP","loss":0.16,"pir":0.005},
      {"method":"NSGA","loss":0,"pir":0.024},{"method":"NSGA","loss":0.16,"pir":0.024},
      {"method":"BOA-simple","loss":0,"pir":0.02},{"method":"BOA-simple","loss":0.0164,"pir":0.07},{"method":"BOA-simple","loss":0.024,"pir":0.188},{"method":"BOA-simple","loss":0.0327,"pir":0.228},{"method":"BOA-simple","loss":0.0491,"pir":0.35},{"method":"BOA-simple","loss":0.0655,"pir":0.3},{"method":"BOA-simple","loss":0.0818,"pir":0.25},{"method":"BOA-simple","loss":0.0982,"pir":0.23},{"method":"BOA-simple","loss":0.16,"pir":0.23},
      {"method":"BOA-flex","loss":0,"pir":0.02},{"method":"BOA-flex","loss":0.001,"pir":0.21},{"method":"BOA-flex","loss":0.0164,"pir":0.278},{"method":"BOA-flex","loss":0.0327,"pir":0.48},{"method":"BOA-flex","loss":0.039,"pir":0.72},{"method":"BOA-flex","loss":0.043,"pir":1},{"method":"BOA-flex","loss":0.0491,"pir":0.957},{"method":"BOA-flex","loss":0.0655,"pir":0.83},{"method":"BOA-flex","loss":0.0818,"pir":0.7},{"method":"BOA-flex","loss":0.088,"pir":0.645},{"method":"BOA-flex","loss":0.16,"pir":0.645},
      {"method":"BOA-prob","loss":0,"pir":0.025},{"method":"BOA-prob","loss":0.0164,"pir":0.025},{"method":"BOA-prob","loss":0.0327,"pir":0.033},{"method":"BOA-prob","loss":0.0491,"pir":0.045},{"method":"BOA-prob","loss":0.0655,"pir":0.065},{"method":"BOA-prob","loss":0.0818,"pir":0.105},{"method":"BOA-prob","loss":0.0982,"pir":0.278},{"method":"BOA-prob","loss":0.1035,"pir":0.502},{"method":"BOA-prob","loss":0.1145,"pir":0.505},{"method":"BOA-prob","loss":0.16,"pir":0.505}
    ],
    "streamcluster_marks": [
      {"method":"MCKP","loss":0.0164,"pir":0.005},{"method":"MCKP","loss":0.0327,"pir":0.005},{"method":"MCKP","loss":0.0491,"pir":0.005},{"method":"MCKP","loss":0.0655,"pir":0.005},{"method":"MCKP","loss":0.0818,"pir":0.005},{"method":"MCKP","loss":0.0982,"pir":0.005},{"method":"MCKP","loss":0.1145,"pir":0.005},{"method":"MCKP","loss":0.1309,"pir":0.005},{"method":"MCKP","loss":0.1473,"pir":0.005},
      {"method":"NSGA","loss":0.0164,"pir":0.024},{"method":"NSGA","loss":0.0327,"pir":0.024},{"method":"NSGA","loss":0.0491,"pir":0.024},{"method":"NSGA","loss":0.0655,"pir":0.024},{"method":"NSGA","loss":0.0818,"pir":0.024},{"method":"NSGA","loss":0.0982,"pir":0.024},{"method":"NSGA","loss":0.1145,"pir":0.024},{"method":"NSGA","loss":0.1309,"pir":0.024},{"method":"NSGA","loss":0.1473,"pir":0.024},
      {"method":"BOA-simple","loss":0,"pir":0.02},{"method":"BOA-simple","loss":0.0164,"pir":0.07},{"method":"BOA-simple","loss":0.0327,"pir":0.228},{"method":"BOA-simple","loss":0.0491,"pir":0.35},{"method":"BOA-simple","loss":0.0655,"pir":0.3},{"method":"BOA-simple","loss":0.0818,"pir":0.25},{"method":"BOA-simple","loss":0.0982,"pir":0.23},{"method":"BOA-simple","loss":0.1145,"pir":0.23},{"method":"BOA-simple","loss":0.1309,"pir":0.23},{"method":"BOA-simple","loss":0.1473,"pir":0.23},
      {"method":"BOA-flex","loss":0.0164,"pir":0.278},{"method":"BOA-flex","loss":0.0327,"pir":0.48},{"method":"BOA-flex","loss":0.0491,"pir":0.957},{"method":"BOA-flex","loss":0.0655,"pir":0.83},{"method":"BOA-flex","loss":0.0818,"pir":0.7},{"method":"BOA-flex","loss":0.0982,"pir":0.645},{"method":"BOA-flex","loss":0.1145,"pir":0.645},{"method":"BOA-flex","loss":0.1309,"pir":0.645},{"method":"BOA-flex","loss":0.1473,"pir":0.645},
      {"method":"BOA-prob","loss":0,"pir":0.025},{"method":"BOA-prob","loss":0.0164,"pir":0.025},{"method":"BOA-prob","loss":0.0327,"pir":0.033},{"method":"BOA-prob","loss":0.0491,"pir":0.045},{"method":"BOA-prob","loss":0.0655,"pir":0.065},{"method":"BOA-prob","loss":0.0818,"pir":0.105},{"method":"BOA-prob","loss":0.0982,"pir":0.278},{"method":"BOA-prob","loss":0.1145,"pir":0.505},{"method":"BOA-prob","loss":0.1309,"pir":0.505},{"method":"BOA-prob","loss":0.1473,"pir":0.505}
    ],
    "swaptions_lines": [
      {"method":"MCKP","loss":0,"pir":0.02},{"method":"MCKP","loss":5.64,"pir":0},{"method":"MCKP","loss":11.28,"pir":0},{"method":"MCKP","loss":12.8,"pir":0.117},{"method":"MCKP","loss":16.92,"pir":0.123},{"method":"MCKP","loss":50,"pir":0.123},
      {"method":"NSGA","loss":0,"pir":0.018},{"method":"NSGA","loss":50,"pir":0.018},
      {"method":"BOA-simple","loss":0,"pir":0.02},{"method":"BOA-simple","loss":0.3,"pir":0.2},{"method":"BOA-simple","loss":2.5,"pir":0.19},{"method":"BOA-simple","loss":4,"pir":0.2},{"method":"BOA-simple","loss":5.64,"pir":0.175},{"method":"BOA-simple","loss":11.28,"pir":0.195},{"method":"BOA-simple","loss":50,"pir":0.195},
      {"method":"BOA-flex","loss":0,"pir":0.02},{"method":"BOA-flex","loss":0.3,"pir":0.75},{"method":"BOA-flex","loss":1.5,"pir":0.8},{"method":"BOA-flex","loss":2.8,"pir":1},{"method":"BOA-flex","loss":3.5,"pir":0.94},{"method":"BOA-flex","loss":5.64,"pir":0.775},{"method":"BOA-flex","loss":11.28,"pir":0.82},{"method":"BOA-flex","loss":16.92,"pir":0.893},{"method":"BOA-flex","loss":19.5,"pir":0.932},{"method":"BOA-flex","loss":22.56,"pir":0.935},{"method":"BOA-flex","loss":50,"pir":0.935},
      {"method":"BOA-prob","loss":0,"pir":0.025},{"method":"BOA-prob","loss":0.3,"pir":0.62},{"method":"BOA-prob","loss":0.8,"pir":0.72},{"method":"BOA-prob","loss":2.2,"pir":0.795},{"method":"BOA-prob","loss":3.5,"pir":0.7},{"method":"BOA-prob","loss":4.8,"pir":0.745},{"method":"BOA-prob","loss":5.64,"pir":0.67},{"method":"BOA-prob","loss":11.28,"pir":0.7},{"method":"BOA-prob","loss":50,"pir":0.7}
    ],
    "swaptions_marks": [
      {"method":"MCKP","loss":5.64,"pir":0},{"method":"MCKP","loss":11.28,"pir":0},{"method":"MCKP","loss":16.92,"pir":0.123},{"method":"MCKP","loss":22.56,"pir":0.123},{"method":"MCKP","loss":28.2,"pir":0.123},{"method":"MCKP","loss":33.84,"pir":0.123},{"method":"MCKP","loss":39.48,"pir":0.123},{"method":"MCKP","loss":45.12,"pir":0.123},
      {"method":"NSGA","loss":5.64,"pir":0.018},{"method":"NSGA","loss":11.28,"pir":0.018},{"method":"NSGA","loss":16.92,"pir":0.018},{"method":"NSGA","loss":22.56,"pir":0.018},{"method":"NSGA","loss":28.2,"pir":0.018},{"method":"NSGA","loss":33.84,"pir":0.018},{"method":"NSGA","loss":39.48,"pir":0.018},{"method":"NSGA","loss":45.12,"pir":0.018},
      {"method":"BOA-simple","loss":0,"pir":0.02},{"method":"BOA-simple","loss":5.64,"pir":0.175},{"method":"BOA-simple","loss":11.28,"pir":0.195},{"method":"BOA-simple","loss":16.92,"pir":0.195},{"method":"BOA-simple","loss":22.56,"pir":0.195},{"method":"BOA-simple","loss":28.2,"pir":0.195},{"method":"BOA-simple","loss":33.84,"pir":0.195},{"method":"BOA-simple","loss":39.48,"pir":0.195},{"method":"BOA-simple","loss":45.12,"pir":0.195},
      {"method":"BOA-flex","loss":5.64,"pir":0.775},{"method":"BOA-flex","loss":11.28,"pir":0.82},{"method":"BOA-flex","loss":16.92,"pir":0.893},{"method":"BOA-flex","loss":22.56,"pir":0.935},{"method":"BOA-flex","loss":28.2,"pir":0.935},{"method":"BOA-flex","loss":33.84,"pir":0.935},{"method":"BOA-flex","loss":39.48,"pir":0.935},{"method":"BOA-flex","loss":45.12,"pir":0.935},
      {"method":"BOA-prob","loss":0,"pir":0.025},{"method":"BOA-prob","loss":5.64,"pir":0.67},{"method":"BOA-prob","loss":11.28,"pir":0.7},{"method":"BOA-prob","loss":16.92,"pir":0.7},{"method":"BOA-prob","loss":22.56,"pir":0.7},{"method":"BOA-prob","loss":28.2,"pir":0.7},{"method":"BOA-prob","loss":33.84,"pir":0.7},{"method":"BOA-prob","loss":39.48,"pir":0.7},{"method":"BOA-prob","loss":45.12,"pir":0.7}
    ],
    "x264_lines": [
      {"method":"MCKP","loss":0,"pir":0.1},{"method":"MCKP","loss":0.0124,"pir":0},{"method":"MCKP","loss":0.0248,"pir":0.02},{"method":"MCKP","loss":0.0372,"pir":0.05},{"method":"MCKP","loss":0.0496,"pir":0.095},{"method":"MCKP","loss":0.062,"pir":0.156},{"method":"MCKP","loss":0.0744,"pir":0.18},{"method":"MCKP","loss":0.0868,"pir":0.2},{"method":"MCKP","loss":0.0992,"pir":0.236},{"method":"MCKP","loss":0.1116,"pir":0.265},{"method":"MCKP","loss":0.12,"pir":0.27},
      {"method":"NSGA","loss":0,"pir":0.1},{"method":"NSGA","loss":0.12,"pir":0.1},
      {"method":"BOA-simple","loss":0,"pir":0.1},{"method":"BOA-simple","loss":0.0008,"pir":0.21},{"method":"BOA-simple","loss":0.0065,"pir":0.16},{"method":"BOA-simple","loss":0.0124,"pir":0.27},{"method":"BOA-simple","loss":0.0248,"pir":0.35},{"method":"BOA-simple","loss":0.0372,"pir":0.5},{"method":"BOA-simple","loss":0.0496,"pir":0.665},{"method":"BOA-simple","loss":0.062,"pir":0.73},{"method":"BOA-simple","loss":0.0744,"pir":0.81},{"method":"BOA-simple","loss":0.0868,"pir":0.83},{"method":"BOA-simple","loss":0.12,"pir":0.83},
      {"method":"BOA-flex","loss":0,"pir":0.1},{"method":"BOA-flex","loss":0.0008,"pir":0.4},{"method":"BOA-flex","loss":0.0065,"pir":0.27},{"method":"BOA-flex","loss":0.0124,"pir":0.35},{"method":"BOA-flex","loss":0.0248,"pir":0.465},{"method":"BOA-flex","loss":0.0372,"pir":0.63},{"method":"BOA-flex","loss":0.0496,"pir":0.665},{"method":"BOA-flex","loss":0.062,"pir":0.707},{"method":"BOA-flex","loss":0.0744,"pir":0.744},{"method":"BOA-flex","loss":0.0868,"pir":0.794},{"method":"BOA-flex","loss":0.0992,"pir":0.856},{"method":"BOA-flex","loss":0.1116,"pir":0.923},{"method":"BOA-flex","loss":0.12,"pir":0.968},
      {"method":"BOA-prob","loss":0,"pir":0.1},{"method":"BOA-prob","loss":0.0008,"pir":0.43},{"method":"BOA-prob","loss":0.006,"pir":0.36},{"method":"BOA-prob","loss":0.0124,"pir":0.385},{"method":"BOA-prob","loss":0.0248,"pir":0.5},{"method":"BOA-prob","loss":0.0372,"pir":0.59},{"method":"BOA-prob","loss":0.0496,"pir":0.665},{"method":"BOA-prob","loss":0.062,"pir":0.75},{"method":"BOA-prob","loss":0.0744,"pir":0.856},{"method":"BOA-prob","loss":0.0868,"pir":0.973},{"method":"BOA-prob","loss":0.12,"pir":0.973}
    ],
    "x264_marks": [
      {"method":"MCKP","loss":0.0124,"pir":0},{"method":"MCKP","loss":0.0248,"pir":0.02},{"method":"MCKP","loss":0.0372,"pir":0.05},{"method":"MCKP","loss":0.0496,"pir":0.095},{"method":"MCKP","loss":0.062,"pir":0.156},{"method":"MCKP","loss":0.0744,"pir":0.18},{"method":"MCKP","loss":0.0868,"pir":0.2},{"method":"MCKP","loss":0.0992,"pir":0.236},{"method":"MCKP","loss":0.1116,"pir":0.265},
      {"method":"NSGA","loss":0.0124,"pir":0.1},{"method":"NSGA","loss":0.0248,"pir":0.1},{"method":"NSGA","loss":0.0372,"pir":0.1},{"method":"NSGA","loss":0.0496,"pir":0.1},{"method":"NSGA","loss":0.062,"pir":0.1},{"method":"NSGA","loss":0.0744,"pir":0.1},{"method":"NSGA","loss":0.0868,"pir":0.1},{"method":"NSGA","loss":0.0992,"pir":0.1},{"method":"NSGA","loss":0.1116,"pir":0.1},
      {"method":"BOA-simple","loss":0,"pir":0.1},{"method":"BOA-simple","loss":0.0124,"pir":0.27},{"method":"BOA-simple","loss":0.0248,"pir":0.35},{"method":"BOA-simple","loss":0.0372,"pir":0.5},{"method":"BOA-simple","loss":0.0496,"pir":0.665},{"method":"BOA-simple","loss":0.062,"pir":0.73},{"method":"BOA-simple","loss":0.0744,"pir":0.81},{"method":"BOA-simple","loss":0.0868,"pir":0.83},{"method":"BOA-simple","loss":0.0992,"pir":0.83},{"method":"BOA-simple","loss":0.1116,"pir":0.83},
      {"method":"BOA-flex","loss":0.0124,"pir":0.35},{"method":"BOA-flex","loss":0.0248,"pir":0.465},{"method":"BOA-flex","loss":0.0372,"pir":0.63},{"method":"BOA-flex","loss":0.0496,"pir":0.665},{"method":"BOA-flex","loss":0.062,"pir":0.707},{"method":"BOA-flex","loss":0.0744,"pir":0.744},{"method":"BOA-flex","loss":0.0868,"pir":0.794},{"method":"BOA-flex","loss":0.0992,"pir":0.856},{"method":"BOA-flex","loss":0.1116,"pir":0.923},
      {"method":"BOA-prob","loss":0,"pir":0.1},{"method":"BOA-prob","loss":0.0124,"pir":0.385},{"method":"BOA-prob","loss":0.0248,"pir":0.5},{"method":"BOA-prob","loss":0.0372,"pir":0.59},{"method":"BOA-prob","loss":0.0496,"pir":0.665},{"method":"BOA-prob","loss":0.062,"pir":0.75},{"method":"BOA-prob","loss":0.0744,"pir":0.856},{"method":"BOA-prob","loss":0.0868,"pir":0.973},{"method":"BOA-prob","loss":0.0992,"pir":0.973},{"method":"BOA-prob","loss":0.1116,"pir":0.973}
    ]
  },
  "spacing": 43,
  "vconcat": [
    {
      "hconcat": [
        {
          "width": 207, "height": 158, "title": "Blackscholes",
          "layer": [
            {"data": {"name": "regions"}, "transform": [{"filter": "datum.bench === 'Blackscholes'"}], "mark": {"type": "rect", "opacity": 0.42},
             "encoding": {"x": {"field": "start", "type": "quantitative", "scale": {"domain": [0, 0.5], "nice": false}, "axis": {"orient": "bottom", "values": [0, 0.1, 0.2, 0.3, 0.4, 0.5], "labelExpr": "datum.value == 0 ? '0' : format(datum.value, '.2f')", "title": "AccuracyLoss"}}, "x2": {"field": "end"},
              "color": {"field": "method", "type": "nominal", "scale": {"domain": ["MCKP", "NSGA", "BOA-simple", "BOA-flex", "BOA-prob"], "range": ["#14a014", "#a0560a", "#1a35d2", "#9b35dc", "#c00a0a"]}, "legend": null}}},
            {"data": {"name": "blackscholes_lines"}, "mark": {"type": "line", "strokeWidth": 2.8, "interpolate": "monotone"},
             "encoding": {"x": {"field": "loss", "type": "quantitative", "scale": {"domain": [0, 0.5], "nice": false}, "axis": {"orient": "top", "values": [0.05, 0.1, 0.15, 0.2, 0.25, 0.3, 0.35, 0.4, 0.45], "labels": false, "title": null}},
              "y": {"field": "pir", "type": "quantitative", "scale": {"domain": [0, 1], "nice": false}, "axis": {"orient": "left", "values": [0, 0.2, 0.4, 0.6, 0.8, 1], "format": "~g", "title": "PIR"}},
              "color": {"field": "method", "type": "nominal", "scale": {"domain": ["MCKP", "NSGA", "BOA-simple", "BOA-flex", "BOA-prob"], "range": ["#14a014", "#a0560a", "#1a35d2", "#9b35dc", "#c00a0a"]}, "legend": null}}},
            {"data": {"name": "blackscholes_marks"}, "mark": {"type": "point", "filled": true, "size": 85, "opacity": 1},
             "encoding": {"x": {"field": "loss", "type": "quantitative", "scale": {"domain": [0, 0.5], "nice": false}, "axis": null},
              "y": {"field": "pir", "type": "quantitative", "scale": {"domain": [0, 1], "nice": false}, "axis": {"orient": "right", "values": [0.2, 0.4, 0.6, 0.8], "labels": false, "title": null}},
              "color": {"field": "method", "type": "nominal", "scale": {"domain": ["MCKP", "NSGA", "BOA-simple", "BOA-flex", "BOA-prob"], "range": ["#14a014", "#a0560a", "#1a35d2", "#9b35dc", "#c00a0a"]}, "legend": null},
              "shape": {"field": "method", "type": "nominal", "scale": {"domain": ["MCKP", "NSGA", "BOA-simple", "BOA-flex", "BOA-prob"], "range": ["circle", "triangle-up", "square", "M0,-1.15L0.75,0L0,1.15L-0.75,0Z", "M0,-1L0.951,-0.309L0.588,0.809L-0.588,0.809L-0.951,-0.309Z"]}, "legend": null}}}
          ],
          "resolve": {"axis": {"x": "independent", "y": "independent"}}
        },
        {
          "width": 211, "height": 158, "title": "Bodytrack",
          "layer": [
            {"data": {"name": "regions"}, "transform": [{"filter": "datum.bench === 'Bodytrack'"}], "mark": {"type": "rect", "opacity": 0.42},
             "encoding": {"x": {"field": "start", "type": "quantitative", "scale": {"domain": [0, 40], "nice": false}, "axis": {"orient": "bottom", "values": [0, 10, 20, 30, 40], "format": "d", "title": "AccuracyLoss"}}, "x2": {"field": "end"},
              "color": {"field": "method", "type": "nominal", "scale": {"domain": ["MCKP", "NSGA", "BOA-simple", "BOA-flex", "BOA-prob"], "range": ["#14a014", "#a0560a", "#1a35d2", "#9b35dc", "#c00a0a"]}, "legend": null}}},
            {"data": {"name": "bodytrack_lines"}, "mark": {"type": "line", "strokeWidth": 2.8, "interpolate": "monotone"},
             "encoding": {"x": {"field": "loss", "type": "quantitative", "scale": {"domain": [0, 40], "nice": false}, "axis": {"orient": "top", "values": [10, 20, 30], "labels": false, "title": null}},
              "y": {"field": "pir", "type": "quantitative", "scale": {"domain": [0, 1], "nice": false}, "axis": {"orient": "left", "values": [0, 0.2, 0.4, 0.6, 0.8, 1], "format": "~g", "title": "PIR"}},
              "color": {"field": "method", "type": "nominal", "scale": {"domain": ["MCKP", "NSGA", "BOA-simple", "BOA-flex", "BOA-prob"], "range": ["#14a014", "#a0560a", "#1a35d2", "#9b35dc", "#c00a0a"]}, "legend": null}}},
            {"data": {"name": "bodytrack_marks"}, "mark": {"type": "point", "filled": true, "size": 85, "opacity": 1},
             "encoding": {"x": {"field": "loss", "type": "quantitative", "scale": {"domain": [0, 40], "nice": false}, "axis": null},
              "y": {"field": "pir", "type": "quantitative", "scale": {"domain": [0, 1], "nice": false}, "axis": {"orient": "right", "values": [0.2, 0.4, 0.6, 0.8], "labels": false, "title": null}},
              "color": {"field": "method", "type": "nominal", "scale": {"domain": ["MCKP", "NSGA", "BOA-simple", "BOA-flex", "BOA-prob"], "range": ["#14a014", "#a0560a", "#1a35d2", "#9b35dc", "#c00a0a"]}, "legend": null},
              "shape": {"field": "method", "type": "nominal", "scale": {"domain": ["MCKP", "NSGA", "BOA-simple", "BOA-flex", "BOA-prob"], "range": ["circle", "triangle-up", "square", "M0,-1.15L0.75,0L0,1.15L-0.75,0Z", "M0,-1L0.951,-0.309L0.588,0.809L-0.588,0.809L-0.951,-0.309Z"]}, "legend": null}}}
          ],
          "resolve": {"axis": {"x": "independent", "y": "independent"}}
        },
        {
          "width": 206, "height": 158, "title": "Canneal",
          "layer": [
            {"data": {"name": "regions"}, "transform": [{"filter": "datum.bench === 'Canneal'"}], "mark": {"type": "rect", "opacity": 0.42},
             "encoding": {"x": {"field": "start", "type": "quantitative", "scale": {"domain": [0, 0.28], "nice": false}, "axis": {"orient": "bottom", "values": [0, 0.07, 0.14, 0.21, 0.28], "labelExpr": "datum.value == 0 ? '0' : format(datum.value, '.2f')", "title": "AccuracyLoss"}}, "x2": {"field": "end"},
              "color": {"field": "method", "type": "nominal", "scale": {"domain": ["MCKP", "NSGA", "BOA-simple", "BOA-flex", "BOA-prob"], "range": ["#14a014", "#a0560a", "#1a35d2", "#9b35dc", "#c00a0a"]}, "legend": null}}},
            {"data": {"name": "canneal_lines"}, "mark": {"type": "line", "strokeWidth": 2.8, "interpolate": "monotone"},
             "encoding": {"x": {"field": "loss", "type": "quantitative", "scale": {"domain": [0, 0.28], "nice": false}, "axis": {"orient": "top", "values": [0.07, 0.14, 0.21], "labels": false, "title": null}},
              "y": {"field": "pir", "type": "quantitative", "scale": {"domain": [0, 1], "nice": false}, "axis": {"orient": "left", "values": [0, 0.2, 0.4, 0.6, 0.8, 1], "format": "~g", "title": "PIR"}},
              "color": {"field": "method", "type": "nominal", "scale": {"domain": ["MCKP", "NSGA", "BOA-simple", "BOA-flex", "BOA-prob"], "range": ["#14a014", "#a0560a", "#1a35d2", "#9b35dc", "#c00a0a"]}, "legend": null}}},
            {"data": {"name": "canneal_marks"}, "mark": {"type": "point", "filled": true, "size": 85, "opacity": 1},
             "encoding": {"x": {"field": "loss", "type": "quantitative", "scale": {"domain": [0, 0.28], "nice": false}, "axis": null},
              "y": {"field": "pir", "type": "quantitative", "scale": {"domain": [0, 1], "nice": false}, "axis": {"orient": "right", "values": [0.2, 0.4, 0.6, 0.8], "labels": false, "title": null}},
              "color": {"field": "method", "type": "nominal", "scale": {"domain": ["MCKP", "NSGA", "BOA-simple", "BOA-flex", "BOA-prob"], "range": ["#14a014", "#a0560a", "#1a35d2", "#9b35dc", "#c00a0a"]}, "legend": null},
              "shape": {"field": "method", "type": "nominal", "scale": {"domain": ["MCKP", "NSGA", "BOA-simple", "BOA-flex", "BOA-prob"], "range": ["circle", "triangle-up", "square", "M0,-1.15L0.75,0L0,1.15L-0.75,0Z", "M0,-1L0.951,-0.309L0.588,0.809L-0.588,0.809L-0.951,-0.309Z"]}, "legend": null}}}
          ],
          "resolve": {"axis": {"x": "independent", "y": "independent"}}
        },
        {
          "width": 210, "height": 158, "title": "Fluidanimate",
          "layer": [
            {"data": {"name": "regions"}, "transform": [{"filter": "datum.bench === 'Fluidanimate'"}], "mark": {"type": "rect", "opacity": 0.42},
             "encoding": {"x": {"field": "start", "type": "quantitative", "scale": {"domain": [0, 0.9], "nice": false}, "axis": {"orient": "bottom", "values": [0, 0.3, 0.6, 0.9], "labelExpr": "datum.value == 0 ? '0' : format(datum.value, '.1f')", "title": "AccuracyLoss"}}, "x2": {"field": "end"},
              "color": {"field": "method", "type": "nominal", "scale": {"domain": ["MCKP", "NSGA", "BOA-simple", "BOA-flex", "BOA-prob"], "range": ["#14a014", "#a0560a", "#1a35d2", "#9b35dc", "#c00a0a"]}, "legend": null}}},
            {"data": {"name": "fluidanimate_lines"}, "mark": {"type": "line", "strokeWidth": 2.8, "interpolate": "monotone"},
             "encoding": {"x": {"field": "loss", "type": "quantitative", "scale": {"domain": [0, 0.9], "nice": false}, "axis": {"orient": "top", "values": [0.3, 0.6], "labels": false, "title": null}},
              "y": {"field": "pir", "type": "quantitative", "scale": {"domain": [0, 1], "nice": false}, "axis": {"orient": "left", "values": [0, 0.2, 0.4, 0.6, 0.8, 1], "format": "~g", "title": "PIR"}},
              "color": {"field": "method", "type": "nominal", "scale": {"domain": ["MCKP", "NSGA", "BOA-simple", "BOA-flex", "BOA-prob"], "range": ["#14a014", "#a0560a", "#1a35d2", "#9b35dc", "#c00a0a"]}, "legend": null}}},
            {"data": {"name": "fluidanimate_marks"}, "mark": {"type": "point", "filled": true, "size": 85, "opacity": 1},
             "encoding": {"x": {"field": "loss", "type": "quantitative", "scale": {"domain": [0, 0.9], "nice": false}, "axis": null},
              "y": {"field": "pir", "type": "quantitative", "scale": {"domain": [0, 1], "nice": false}, "axis": {"orient": "right", "values": [0.2, 0.4, 0.6, 0.8], "labels": false, "title": null}},
              "color": {"field": "method", "type": "nominal", "scale": {"domain": ["MCKP", "NSGA", "BOA-simple", "BOA-flex", "BOA-prob"], "range": ["#14a014", "#a0560a", "#1a35d2", "#9b35dc", "#c00a0a"]}, "legend": null},
              "shape": {"field": "method", "type": "nominal", "scale": {"domain": ["MCKP", "NSGA", "BOA-simple", "BOA-flex", "BOA-prob"], "range": ["circle", "triangle-up", "square", "M0,-1.15L0.75,0L0,1.15L-0.75,0Z", "M0,-1L0.951,-0.309L0.588,0.809L-0.588,0.809L-0.951,-0.309Z"]}, "legend": null}}}
          ],
          "resolve": {"axis": {"x": "independent", "y": "independent"}}
        }
      ],
      "bounds": "flush", "spacing": 124
    },
    {
      "hconcat": [
        {
          "width": 207, "height": 158, "title": "Heartwall",
          "layer": [
            {"data": {"name": "regions"}, "transform": [{"filter": "datum.bench === 'Heartwall'"}], "mark": {"type": "rect", "opacity": 0.42},
             "encoding": {"x": {"field": "start", "type": "quantitative", "scale": {"domain": [0, 100], "nice": false}, "axis": {"orient": "bottom", "values": [0, 20, 40, 60, 80, 100], "format": "d", "title": "AccuracyLoss"}}, "x2": {"field": "end"},
              "color": {"field": "method", "type": "nominal", "scale": {"domain": ["MCKP", "NSGA", "BOA-simple", "BOA-flex", "BOA-prob"], "range": ["#14a014", "#a0560a", "#1a35d2", "#9b35dc", "#c00a0a"]}, "legend": null}}},
            {"data": {"name": "heartwall_lines"}, "mark": {"type": "line", "strokeWidth": 2.8, "interpolate": "monotone"},
             "encoding": {"x": {"field": "loss", "type": "quantitative", "scale": {"domain": [0, 100], "nice": false}, "axis": {"orient": "top", "values": [20, 40, 60, 80], "labels": false, "title": null}},
              "y": {"field": "pir", "type": "quantitative", "scale": {"domain": [0, 1], "nice": false}, "axis": {"orient": "left", "values": [0, 0.2, 0.4, 0.6, 0.8, 1], "format": "~g", "title": "PIR"}},
              "color": {"field": "method", "type": "nominal", "scale": {"domain": ["MCKP", "NSGA", "BOA-simple", "BOA-flex", "BOA-prob"], "range": ["#14a014", "#a0560a", "#1a35d2", "#9b35dc", "#c00a0a"]}, "legend": null}}},
            {"data": {"name": "heartwall_marks"}, "mark": {"type": "point", "filled": true, "size": 85, "opacity": 1},
             "encoding": {"x": {"field": "loss", "type": "quantitative", "scale": {"domain": [0, 100], "nice": false}, "axis": null},
              "y": {"field": "pir", "type": "quantitative", "scale": {"domain": [0, 1], "nice": false}, "axis": {"orient": "right", "values": [0.2, 0.4, 0.6, 0.8], "labels": false, "title": null}},
              "color": {"field": "method", "type": "nominal", "scale": {"domain": ["MCKP", "NSGA", "BOA-simple", "BOA-flex", "BOA-prob"], "range": ["#14a014", "#a0560a", "#1a35d2", "#9b35dc", "#c00a0a"]}, "legend": null},
              "shape": {"field": "method", "type": "nominal", "scale": {"domain": ["MCKP", "NSGA", "BOA-simple", "BOA-flex", "BOA-prob"], "range": ["circle", "triangle-up", "square", "M0,-1.15L0.75,0L0,1.15L-0.75,0Z", "M0,-1L0.951,-0.309L0.588,0.809L-0.588,0.809L-0.951,-0.309Z"]}, "legend": null}}}
          ],
          "resolve": {"axis": {"x": "independent", "y": "independent"}}
        },
        {
          "width": 213, "height": 158, "title": "Kmeans",
          "layer": [
            {"data": {"name": "regions"}, "transform": [{"filter": "datum.bench === 'Kmeans'"}], "mark": {"type": "rect", "opacity": 0.42},
             "encoding": {"x": {"field": "start", "type": "quantitative", "scale": {"domain": [0, 5], "nice": false}, "axis": {"orient": "bottom", "values": [0, 1, 2, 3, 4, 5], "format": "d", "title": "AccuracyLoss"}}, "x2": {"field": "end"},
              "color": {"field": "method", "type": "nominal", "scale": {"domain": ["MCKP", "NSGA", "BOA-simple", "BOA-flex", "BOA-prob"], "range": ["#14a014", "#a0560a", "#1a35d2", "#9b35dc", "#c00a0a"]}, "legend": null}}},
            {"data": {"name": "kmeans_lines"}, "mark": {"type": "line", "strokeWidth": 2.8, "interpolate": "monotone"},
             "encoding": {"x": {"field": "loss", "type": "quantitative", "scale": {"domain": [0, 5], "nice": false}, "axis": {"orient": "top", "values": [1, 2, 3, 4], "labels": false, "title": null}},
              "y": {"field": "pir", "type": "quantitative", "scale": {"domain": [0, 1], "nice": false}, "axis": {"orient": "left", "values": [0, 0.2, 0.4, 0.6, 0.8, 1], "format": "~g", "title": "PIR"}},
              "color": {"field": "method", "type": "nominal", "scale": {"domain": ["MCKP", "NSGA", "BOA-simple", "BOA-flex", "BOA-prob"], "range": ["#14a014", "#a0560a", "#1a35d2", "#9b35dc", "#c00a0a"]}, "legend": null}}},
            {"data": {"name": "kmeans_marks"}, "mark": {"type": "point", "filled": true, "size": 85, "opacity": 1},
             "encoding": {"x": {"field": "loss", "type": "quantitative", "scale": {"domain": [0, 5], "nice": false}, "axis": null},
              "y": {"field": "pir", "type": "quantitative", "scale": {"domain": [0, 1], "nice": false}, "axis": {"orient": "right", "values": [0.2, 0.4, 0.6, 0.8], "labels": false, "title": null}},
              "color": {"field": "method", "type": "nominal", "scale": {"domain": ["MCKP", "NSGA", "BOA-simple", "BOA-flex", "BOA-prob"], "range": ["#14a014", "#a0560a", "#1a35d2", "#9b35dc", "#c00a0a"]}, "legend": null},
              "shape": {"field": "method", "type": "nominal", "scale": {"domain": ["MCKP", "NSGA", "BOA-simple", "BOA-flex", "BOA-prob"], "range": ["circle", "triangle-up", "square", "M0,-1.15L0.75,0L0,1.15L-0.75,0Z", "M0,-1L0.951,-0.309L0.588,0.809L-0.588,0.809L-0.951,-0.309Z"]}, "legend": null}}}
          ],
          "resolve": {"axis": {"x": "independent", "y": "independent"}}
        },
        {
          "width": 206, "height": 158, "title": "Particlefilter",
          "layer": [
            {"data": {"name": "regions"}, "transform": [{"filter": "datum.bench === 'Particlefilter'"}], "mark": {"type": "rect", "opacity": 0.42},
             "encoding": {"x": {"field": "start", "type": "quantitative", "scale": {"domain": [0, 0.45], "nice": false}, "axis": {"orient": "bottom", "values": [0, 0.15, 0.3, 0.45], "labelExpr": "datum.value == 0 ? '0' : format(datum.value, '.2f')", "title": "AccuracyLoss"}}, "x2": {"field": "end"},
              "color": {"field": "method", "type": "nominal", "scale": {"domain": ["MCKP", "NSGA", "BOA-simple", "BOA-flex", "BOA-prob"], "range": ["#14a014", "#a0560a", "#1a35d2", "#9b35dc", "#c00a0a"]}, "legend": null}}},
            {"data": {"name": "particlefilter_lines"}, "mark": {"type": "line", "strokeWidth": 2.8, "interpolate": "monotone"},
             "encoding": {"x": {"field": "loss", "type": "quantitative", "scale": {"domain": [0, 0.45], "nice": false}, "axis": {"orient": "top", "values": [0.15, 0.3], "labels": false, "title": null}},
              "y": {"field": "pir", "type": "quantitative", "scale": {"domain": [0, 1], "nice": false}, "axis": {"orient": "left", "values": [0, 0.2, 0.4, 0.6, 0.8, 1], "format": "~g", "title": "PIR"}},
              "color": {"field": "method", "type": "nominal", "scale": {"domain": ["MCKP", "NSGA", "BOA-simple", "BOA-flex", "BOA-prob"], "range": ["#14a014", "#a0560a", "#1a35d2", "#9b35dc", "#c00a0a"]}, "legend": null}}},
            {"data": {"name": "particlefilter_marks"}, "mark": {"type": "point", "filled": true, "size": 85, "opacity": 1},
             "encoding": {"x": {"field": "loss", "type": "quantitative", "scale": {"domain": [0, 0.45], "nice": false}, "axis": null},
              "y": {"field": "pir", "type": "quantitative", "scale": {"domain": [0, 1], "nice": false}, "axis": {"orient": "right", "values": [0.2, 0.4, 0.6, 0.8], "labels": false, "title": null}},
              "color": {"field": "method", "type": "nominal", "scale": {"domain": ["MCKP", "NSGA", "BOA-simple", "BOA-flex", "BOA-prob"], "range": ["#14a014", "#a0560a", "#1a35d2", "#9b35dc", "#c00a0a"]}, "legend": null},
              "shape": {"field": "method", "type": "nominal", "scale": {"domain": ["MCKP", "NSGA", "BOA-simple", "BOA-flex", "BOA-prob"], "range": ["circle", "triangle-up", "square", "M0,-1.15L0.75,0L0,1.15L-0.75,0Z", "M0,-1L0.951,-0.309L0.588,0.809L-0.588,0.809L-0.951,-0.309Z"]}, "legend": null}}}
          ],
          "resolve": {"axis": {"x": "independent", "y": "independent"}}
        },
        {
          "width": 207, "height": 158, "title": "Srad",
          "layer": [
            {"data": {"name": "regions"}, "transform": [{"filter": "datum.bench === 'Srad'"}], "mark": {"type": "rect", "opacity": 0.42},
             "encoding": {"x": {"field": "start", "type": "quantitative", "scale": {"domain": [0, 120], "nice": false}, "axis": {"orient": "bottom", "values": [0, 30, 60, 90, 120], "format": "d", "title": "AccuracyLoss"}}, "x2": {"field": "end"},
              "color": {"field": "method", "type": "nominal", "scale": {"domain": ["MCKP", "NSGA", "BOA-simple", "BOA-flex", "BOA-prob"], "range": ["#14a014", "#a0560a", "#1a35d2", "#9b35dc", "#c00a0a"]}, "legend": null}}},
            {"data": {"name": "srad_lines"}, "mark": {"type": "line", "strokeWidth": 2.8, "interpolate": "monotone"},
             "encoding": {"x": {"field": "loss", "type": "quantitative", "scale": {"domain": [0, 120], "nice": false}, "axis": {"orient": "top", "values": [30, 60, 90], "labels": false, "title": null}},
              "y": {"field": "pir", "type": "quantitative", "scale": {"domain": [0, 1], "nice": false}, "axis": {"orient": "left", "values": [0, 0.2, 0.4, 0.6, 0.8, 1], "format": "~g", "title": "PIR"}},
              "color": {"field": "method", "type": "nominal", "scale": {"domain": ["MCKP", "NSGA", "BOA-simple", "BOA-flex", "BOA-prob"], "range": ["#14a014", "#a0560a", "#1a35d2", "#9b35dc", "#c00a0a"]}, "legend": null}}},
            {"data": {"name": "srad_marks"}, "mark": {"type": "point", "filled": true, "size": 85, "opacity": 1},
             "encoding": {"x": {"field": "loss", "type": "quantitative", "scale": {"domain": [0, 120], "nice": false}, "axis": null},
              "y": {"field": "pir", "type": "quantitative", "scale": {"domain": [0, 1], "nice": false}, "axis": {"orient": "right", "values": [0.2, 0.4, 0.6, 0.8], "labels": false, "title": null}},
              "color": {"field": "method", "type": "nominal", "scale": {"domain": ["MCKP", "NSGA", "BOA-simple", "BOA-flex", "BOA-prob"], "range": ["#14a014", "#a0560a", "#1a35d2", "#9b35dc", "#c00a0a"]}, "legend": null},
              "shape": {"field": "method", "type": "nominal", "scale": {"domain": ["MCKP", "NSGA", "BOA-simple", "BOA-flex", "BOA-prob"], "range": ["circle", "triangle-up", "square", "M0,-1.15L0.75,0L0,1.15L-0.75,0Z", "M0,-1L0.951,-0.309L0.588,0.809L-0.588,0.809L-0.951,-0.309Z"]}, "legend": null}}}
          ],
          "resolve": {"axis": {"x": "independent", "y": "independent"}}
        }
      ],
      "bounds": "flush", "spacing": 124
    },
    {
      "hconcat": [
        {
          "hconcat": [
            {
              "width": 205, "height": 158, "title": "Streamcluster",
              "layer": [
                {"data": {"name": "regions"}, "transform": [{"filter": "datum.bench === 'Streamcluster'"}], "mark": {"type": "rect", "opacity": 0.42},
                 "encoding": {"x": {"field": "start", "type": "quantitative", "scale": {"domain": [0, 0.16], "nice": false}, "axis": {"orient": "bottom", "values": [0, 0.04, 0.08, 0.12, 0.16], "labelExpr": "datum.value == 0 ? '0' : format(datum.value, '.2f')", "title": "AccuracyLoss"}}, "x2": {"field": "end"},
                  "color": {"field": "method", "type": "nominal", "scale": {"domain": ["MCKP", "NSGA", "BOA-simple", "BOA-flex", "BOA-prob"], "range": ["#14a014", "#a0560a", "#1a35d2", "#9b35dc", "#c00a0a"]}, "legend": null}}},
                {"data": {"name": "streamcluster_lines"}, "mark": {"type": "line", "strokeWidth": 2.8, "interpolate": "monotone"},
                 "encoding": {"x": {"field": "loss", "type": "quantitative", "scale": {"domain": [0, 0.16], "nice": false}, "axis": {"orient": "top", "values": [0.04, 0.08, 0.12], "labels": false, "title": null}},
                  "y": {"field": "pir", "type": "quantitative", "scale": {"domain": [0, 1], "nice": false}, "axis": {"orient": "left", "values": [0, 0.2, 0.4, 0.6, 0.8, 1], "format": "~g", "title": "PIR"}},
                  "color": {"field": "method", "type": "nominal", "scale": {"domain": ["MCKP", "NSGA", "BOA-simple", "BOA-flex", "BOA-prob"], "range": ["#14a014", "#a0560a", "#1a35d2", "#9b35dc", "#c00a0a"]}, "legend": null}}},
                {"data": {"name": "streamcluster_marks"}, "mark": {"type": "point", "filled": true, "size": 85, "opacity": 1},
                 "encoding": {"x": {"field": "loss", "type": "quantitative", "scale": {"domain": [0, 0.16], "nice": false}, "axis": null},
                  "y": {"field": "pir", "type": "quantitative", "scale": {"domain": [0, 1], "nice": false}, "axis": {"orient": "right", "values": [0.2, 0.4, 0.6, 0.8], "labels": false, "title": null}},
                  "color": {"field": "method", "type": "nominal", "scale": {"domain": ["MCKP", "NSGA", "BOA-simple", "BOA-flex", "BOA-prob"], "range": ["#14a014", "#a0560a", "#1a35d2", "#9b35dc", "#c00a0a"]}, "legend": null},
                  "shape": {"field": "method", "type": "nominal", "scale": {"domain": ["MCKP", "NSGA", "BOA-simple", "BOA-flex", "BOA-prob"], "range": ["circle", "triangle-up", "square", "M0,-1.15L0.75,0L0,1.15L-0.75,0Z", "M0,-1L0.951,-0.309L0.588,0.809L-0.588,0.809L-0.951,-0.309Z"]}, "legend": null}}}
              ],
              "resolve": {"axis": {"x": "independent", "y": "independent"}}
            },
            {
              "width": 211, "height": 158, "title": "Swaptions",
              "layer": [
                {"data": {"name": "regions"}, "transform": [{"filter": "datum.bench === 'Swaptions'"}], "mark": {"type": "rect", "opacity": 0.42},
                 "encoding": {"x": {"field": "start", "type": "quantitative", "scale": {"domain": [0, 50], "nice": false}, "axis": {"orient": "bottom", "values": [0, 10, 20, 30, 40, 50], "format": "d", "title": "AccuracyLoss"}}, "x2": {"field": "end"},
                  "color": {"field": "method", "type": "nominal", "scale": {"domain": ["MCKP", "NSGA", "BOA-simple", "BOA-flex", "BOA-prob"], "range": ["#14a014", "#a0560a", "#1a35d2", "#9b35dc", "#c00a0a"]}, "legend": null}}},
                {"data": {"name": "swaptions_lines"}, "mark": {"type": "line", "strokeWidth": 2.8, "interpolate": "monotone"},
                 "encoding": {"x": {"field": "loss", "type": "quantitative", "scale": {"domain": [0, 50], "nice": false}, "axis": {"orient": "top", "values": [10, 20, 30, 40], "labels": false, "title": null}},
                  "y": {"field": "pir", "type": "quantitative", "scale": {"domain": [0, 1], "nice": false}, "axis": {"orient": "left", "values": [0, 0.2, 0.4, 0.6, 0.8, 1], "format": "~g", "title": "PIR"}},
                  "color": {"field": "method", "type": "nominal", "scale": {"domain": ["MCKP", "NSGA", "BOA-simple", "BOA-flex", "BOA-prob"], "range": ["#14a014", "#a0560a", "#1a35d2", "#9b35dc", "#c00a0a"]}, "legend": null}}},
                {"data": {"name": "swaptions_marks"}, "mark": {"type": "point", "filled": true, "size": 85, "opacity": 1},
                 "encoding": {"x": {"field": "loss", "type": "quantitative", "scale": {"domain": [0, 50], "nice": false}, "axis": null},
                  "y": {"field": "pir", "type": "quantitative", "scale": {"domain": [0, 1], "nice": false}, "axis": {"orient": "right", "values": [0.2, 0.4, 0.6, 0.8], "labels": false, "title": null}},
                  "color": {"field": "method", "type": "nominal", "scale": {"domain": ["MCKP", "NSGA", "BOA-simple", "BOA-flex", "BOA-prob"], "range": ["#14a014", "#a0560a", "#1a35d2", "#9b35dc", "#c00a0a"]}, "legend": null},
                  "shape": {"field": "method", "type": "nominal", "scale": {"domain": ["MCKP", "NSGA", "BOA-simple", "BOA-flex", "BOA-prob"], "range": ["circle", "triangle-up", "square", "M0,-1.15L0.75,0L0,1.15L-0.75,0Z", "M0,-1L0.951,-0.309L0.588,0.809L-0.588,0.809L-0.951,-0.309Z"]}, "legend": null}}}
              ],
              "resolve": {"axis": {"x": "independent", "y": "independent"}}
            }
          ],
          "bounds": "flush", "spacing": 128
        },
        {
          "vconcat": [
            {"width": 10, "height": 1, "data": {"values": []}, "mark": "point", "view": {"stroke": null}},
            {
              "hconcat": [
                {
                  "width": 178, "height": 135,
                  "title": {"text": "X264", "fontSize": 24, "offset": -4},
                  "layer": [
                    {"data": {"name": "regions"}, "transform": [{"filter": "datum.bench === 'X264'"}], "mark": {"type": "rect", "opacity": 0.42},
                     "encoding": {"x": {"field": "start", "type": "quantitative", "scale": {"domain": [0, 0.12], "nice": false}, "axis": {"orient": "bottom", "values": [0, 0.04, 0.08, 0.12], "labelExpr": "datum.value == 0 ? '0' : format(datum.value, '.2f')", "title": "AccuracyLoss", "labelFontSize": 18, "titleFontSize": 20, "tickSize": -5}}, "x2": {"field": "end"},
                      "color": {"field": "method", "type": "nominal", "scale": {"domain": ["MCKP", "NSGA", "BOA-simple", "BOA-flex", "BOA-prob"], "range": ["#14a014", "#a0560a", "#1a35d2", "#9b35dc", "#c00a0a"]}, "legend": null}}},
                    {"data": {"name": "x264_lines"}, "mark": {"type": "line", "strokeWidth": 2.6, "interpolate": "monotone"},
                     "encoding": {"x": {"field": "loss", "type": "quantitative", "scale": {"domain": [0, 0.12], "nice": false}, "axis": {"orient": "top", "values": [0.04, 0.08], "labels": false, "title": null, "tickSize": -5}},
                      "y": {"field": "pir", "type": "quantitative", "scale": {"domain": [0, 1], "nice": false}, "axis": {"orient": "left", "values": [0, 0.2, 0.4, 0.6, 0.8, 1], "format": "~g", "title": "PIR", "labelFontSize": 18, "titleFontSize": 20, "tickSize": -5}},
                      "color": {"field": "method", "type": "nominal", "scale": {"domain": ["MCKP", "NSGA", "BOA-simple", "BOA-flex", "BOA-prob"], "range": ["#14a014", "#a0560a", "#1a35d2", "#9b35dc", "#c00a0a"]}, "legend": null}}},
                    {"data": {"name": "x264_marks"}, "mark": {"type": "point", "filled": true, "size": 70, "opacity": 1},
                     "encoding": {"x": {"field": "loss", "type": "quantitative", "scale": {"domain": [0, 0.12], "nice": false}, "axis": null},
                      "y": {"field": "pir", "type": "quantitative", "scale": {"domain": [0, 1], "nice": false}, "axis": {"orient": "right", "values": [0.2, 0.4, 0.6, 0.8], "labels": false, "title": null, "tickSize": -5}},
                      "color": {"field": "method", "type": "nominal", "scale": {"domain": ["MCKP", "NSGA", "BOA-simple", "BOA-flex", "BOA-prob"], "range": ["#14a014", "#a0560a", "#1a35d2", "#9b35dc", "#c00a0a"]}, "legend": null},
                      "shape": {"field": "method", "type": "nominal", "scale": {"domain": ["MCKP", "NSGA", "BOA-simple", "BOA-flex", "BOA-prob"], "range": ["circle", "triangle-up", "square", "M0,-1.15L0.75,0L0,1.15L-0.75,0Z", "M0,-1L0.951,-0.309L0.588,0.809L-0.588,0.809L-0.951,-0.309Z"]}, "legend": null}}}
                  ],
                  "resolve": {"axis": {"x": "independent", "y": "independent"}}
                },
                {
                  "width": 180, "height": 159,
                  "data": {"name": "methods"},
                  "encoding": {"y": {"field": "method", "type": "nominal", "scale": {"type": "point", "domain": ["MCKP", "NSGA", "BOA-simple", "BOA-flex", "BOA-prob"], "padding": 0.7}, "axis": null}},
                  "layer": [
                    {"mark": {"type": "rule", "strokeWidth": 3},
                     "encoding": {"x": {"datum": 0.056, "type": "quantitative", "scale": {"domain": [0, 1], "nice": false}, "axis": null}, "x2": {"datum": 0.328},
                      "color": {"field": "method", "type": "nominal", "scale": {"domain": ["MCKP", "NSGA", "BOA-simple", "BOA-flex", "BOA-prob"], "range": ["#14a014", "#a0560a", "#1a35d2", "#9b35dc", "#c00a0a"]}, "legend": null}}},
                    {"mark": {"type": "point", "filled": true, "size": 85, "opacity": 1},
                     "encoding": {"x": {"datum": 0.19, "type": "quantitative", "scale": {"domain": [0, 1], "nice": false}, "axis": null},
                      "color": {"field": "method", "type": "nominal", "scale": {"domain": ["MCKP", "NSGA", "BOA-simple", "BOA-flex", "BOA-prob"], "range": ["#14a014", "#a0560a", "#1a35d2", "#9b35dc", "#c00a0a"]}, "legend": null},
                      "shape": {"field": "method", "type": "nominal", "scale": {"domain": ["MCKP", "NSGA", "BOA-simple", "BOA-flex", "BOA-prob"], "range": ["circle", "triangle-up", "square", "M0,-1.15L0.75,0L0,1.15L-0.75,0Z", "M0,-1L0.951,-0.309L0.588,0.809L-0.588,0.809L-0.951,-0.309Z"]}, "legend": null}}},
                    {"mark": {"type": "text", "fontSize": 19, "align": "center", "baseline": "middle", "color": "black", "font": "Liberation Serif, DejaVu Serif, serif"},
                     "encoding": {"x": {"datum": 0.645, "type": "quantitative", "scale": {"domain": [0, 1], "nice": false}, "axis": null}, "text": {"field": "method"}}}
                  ]
                }
              ],
              "bounds": "flush", "spacing": 85
            }
          ],
          "spacing": 0
        }
      ],
      "spacing": 120
    }
  ],
  "config": {
    "font": "Liberation Serif, DejaVu Serif, serif",
    "view": {"stroke": "black", "strokeWidth": 1.2},
    "text": {"font": "Liberation Serif, DejaVu Serif, serif"},
    "title": {"font": "Liberation Serif, DejaVu Serif, serif", "fontSize": 28, "fontWeight": "normal", "color": "black", "offset": 1},
    "axis": {"grid": false, "domain": false, "tickColor": "#808080", "tickSize": -6, "tickWidth": 1, "labelFont": "Liberation Serif, DejaVu Serif, serif", "labelFontSize": 20, "labelColor": "black", "labelPadding": 3, "labelFlush": false, "labelOverlap": false, "labelBound": false, "titleFont": "Liberation Serif, DejaVu Serif, serif", "titleFontSize": 22, "titleFontWeight": "normal", "titleColor": "black", "titlePadding": 2},
    "legend": {"disable": true}
  }
}
